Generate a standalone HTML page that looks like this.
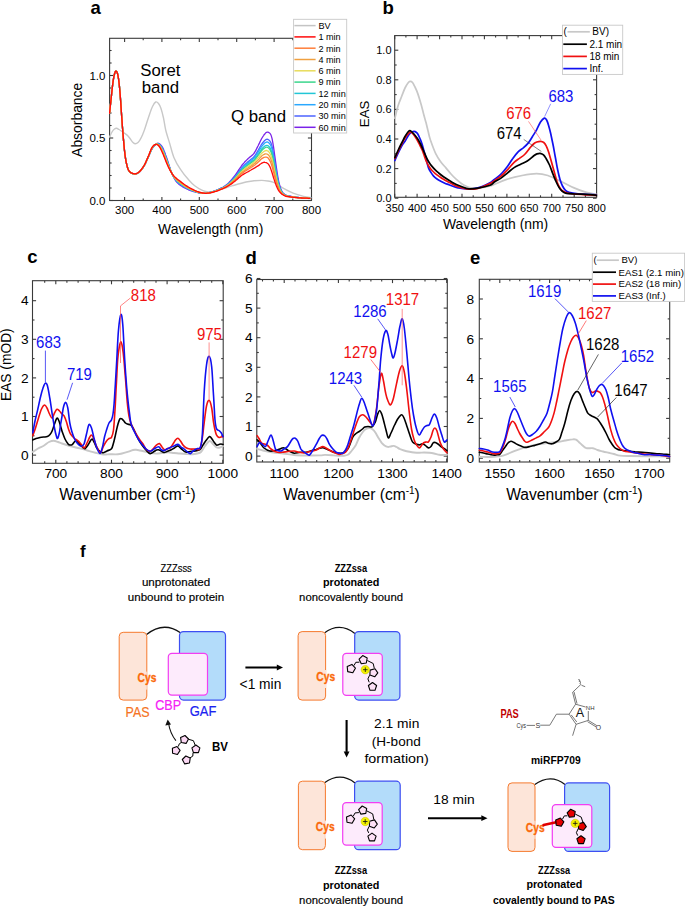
<!DOCTYPE html><html><head><meta charset="utf-8"><style>html,body{margin:0;padding:0;background:#fff;}svg{display:block;}text{font-family:"Liberation Sans",sans-serif;}</style></head><body>
<svg width="685" height="906" viewBox="0 0 685 906">
<rect width="685" height="906" fill="#fff"/>
<text x="90.5" y="13.8" font-size="18.5" fill="#000" font-weight="bold">a</text>
<line x1="124.6" y1="200.5" x2="124.6" y2="196.9" stroke="#3a3a3a" stroke-width="1.1"/>
<line x1="124.6" y1="38.3" x2="124.6" y2="41.9" stroke="#3a3a3a" stroke-width="1.1"/>
<line x1="161.9" y1="200.5" x2="161.9" y2="196.9" stroke="#3a3a3a" stroke-width="1.1"/>
<line x1="161.9" y1="38.3" x2="161.9" y2="41.9" stroke="#3a3a3a" stroke-width="1.1"/>
<line x1="199.3" y1="200.5" x2="199.3" y2="196.9" stroke="#3a3a3a" stroke-width="1.1"/>
<line x1="199.3" y1="38.3" x2="199.3" y2="41.9" stroke="#3a3a3a" stroke-width="1.1"/>
<line x1="236.7" y1="200.5" x2="236.7" y2="196.9" stroke="#3a3a3a" stroke-width="1.1"/>
<line x1="236.7" y1="38.3" x2="236.7" y2="41.9" stroke="#3a3a3a" stroke-width="1.1"/>
<line x1="274.1" y1="200.5" x2="274.1" y2="196.9" stroke="#3a3a3a" stroke-width="1.1"/>
<line x1="274.1" y1="38.3" x2="274.1" y2="41.9" stroke="#3a3a3a" stroke-width="1.1"/>
<line x1="311.5" y1="200.5" x2="311.5" y2="196.9" stroke="#3a3a3a" stroke-width="1.1"/>
<line x1="311.5" y1="38.3" x2="311.5" y2="41.9" stroke="#3a3a3a" stroke-width="1.1"/>
<line x1="143.2" y1="200.5" x2="143.2" y2="198.5" stroke="#3a3a3a" stroke-width="1.1"/>
<line x1="143.2" y1="38.3" x2="143.2" y2="40.3" stroke="#3a3a3a" stroke-width="1.1"/>
<line x1="180.6" y1="200.5" x2="180.6" y2="198.5" stroke="#3a3a3a" stroke-width="1.1"/>
<line x1="180.6" y1="38.3" x2="180.6" y2="40.3" stroke="#3a3a3a" stroke-width="1.1"/>
<line x1="218" y1="200.5" x2="218" y2="198.5" stroke="#3a3a3a" stroke-width="1.1"/>
<line x1="218" y1="38.3" x2="218" y2="40.3" stroke="#3a3a3a" stroke-width="1.1"/>
<line x1="255.4" y1="200.5" x2="255.4" y2="198.5" stroke="#3a3a3a" stroke-width="1.1"/>
<line x1="255.4" y1="38.3" x2="255.4" y2="40.3" stroke="#3a3a3a" stroke-width="1.1"/>
<line x1="292.8" y1="200.5" x2="292.8" y2="198.5" stroke="#3a3a3a" stroke-width="1.1"/>
<line x1="292.8" y1="38.3" x2="292.8" y2="40.3" stroke="#3a3a3a" stroke-width="1.1"/>
<line x1="109.6" y1="200.5" x2="113.2" y2="200.5" stroke="#3a3a3a" stroke-width="1.1"/>
<line x1="311.5" y1="200.5" x2="307.9" y2="200.5" stroke="#3a3a3a" stroke-width="1.1"/>
<line x1="109.6" y1="138" x2="113.2" y2="138" stroke="#3a3a3a" stroke-width="1.1"/>
<line x1="311.5" y1="138" x2="307.9" y2="138" stroke="#3a3a3a" stroke-width="1.1"/>
<line x1="109.6" y1="75.5" x2="113.2" y2="75.5" stroke="#3a3a3a" stroke-width="1.1"/>
<line x1="311.5" y1="75.5" x2="307.9" y2="75.5" stroke="#3a3a3a" stroke-width="1.1"/>
<line x1="109.6" y1="188" x2="111.6" y2="188" stroke="#3a3a3a" stroke-width="1.1"/>
<line x1="311.5" y1="188" x2="309.5" y2="188" stroke="#3a3a3a" stroke-width="1.1"/>
<line x1="109.6" y1="175.5" x2="111.6" y2="175.5" stroke="#3a3a3a" stroke-width="1.1"/>
<line x1="311.5" y1="175.5" x2="309.5" y2="175.5" stroke="#3a3a3a" stroke-width="1.1"/>
<line x1="109.6" y1="163" x2="111.6" y2="163" stroke="#3a3a3a" stroke-width="1.1"/>
<line x1="311.5" y1="163" x2="309.5" y2="163" stroke="#3a3a3a" stroke-width="1.1"/>
<line x1="109.6" y1="150.5" x2="111.6" y2="150.5" stroke="#3a3a3a" stroke-width="1.1"/>
<line x1="311.5" y1="150.5" x2="309.5" y2="150.5" stroke="#3a3a3a" stroke-width="1.1"/>
<line x1="109.6" y1="125.5" x2="111.6" y2="125.5" stroke="#3a3a3a" stroke-width="1.1"/>
<line x1="311.5" y1="125.5" x2="309.5" y2="125.5" stroke="#3a3a3a" stroke-width="1.1"/>
<line x1="109.6" y1="113" x2="111.6" y2="113" stroke="#3a3a3a" stroke-width="1.1"/>
<line x1="311.5" y1="113" x2="309.5" y2="113" stroke="#3a3a3a" stroke-width="1.1"/>
<line x1="109.6" y1="100.5" x2="111.6" y2="100.5" stroke="#3a3a3a" stroke-width="1.1"/>
<line x1="311.5" y1="100.5" x2="309.5" y2="100.5" stroke="#3a3a3a" stroke-width="1.1"/>
<line x1="109.6" y1="88" x2="111.6" y2="88" stroke="#3a3a3a" stroke-width="1.1"/>
<line x1="311.5" y1="88" x2="309.5" y2="88" stroke="#3a3a3a" stroke-width="1.1"/>
<line x1="109.6" y1="63" x2="111.6" y2="63" stroke="#3a3a3a" stroke-width="1.1"/>
<line x1="311.5" y1="63" x2="309.5" y2="63" stroke="#3a3a3a" stroke-width="1.1"/>
<line x1="109.6" y1="50.5" x2="111.6" y2="50.5" stroke="#3a3a3a" stroke-width="1.1"/>
<line x1="311.5" y1="50.5" x2="309.5" y2="50.5" stroke="#3a3a3a" stroke-width="1.1"/>
<rect x="109.6" y="38.3" width="201.9" height="162.2" fill="none" stroke="#3a3a3a" stroke-width="1.1"/>
<path d="M109.6 137C110 136.2 111.2 133.3 112 132C112.8 130.7 113.7 129.6 114.5 129C115.3 128.4 115.8 128.2 116.6 128.3C117.3 128.4 118.1 129 119 129.5C119.9 130 121 130.8 122 131.5C123 132.2 124.1 132.8 125 133.5C125.9 134.2 126.7 134.7 127.5 135.5C128.3 136.3 129.1 137.3 130 138.5C130.9 139.7 132.1 141.6 133 142.5C133.9 143.4 134.7 143.8 135.5 143.8C136.3 143.8 137.2 143.2 138 142.5C138.8 141.8 139.3 141.1 140 139.9C140.7 138.7 141.5 137.2 142.2 135.5C142.9 133.8 143.6 132.2 144.4 130C145.2 127.8 146.1 124.8 147 122C147.9 119.2 149.1 115.6 150 113C150.9 110.4 151.6 108.3 152.5 106.5C153.4 104.7 154.7 102.5 155.7 102C156.7 101.5 157.6 102.4 158.5 103.5C159.4 104.6 160.2 106.1 161 108.5C161.8 110.9 162.7 114.4 163.5 118C164.3 121.6 164.7 125.8 165.7 130C166.7 134.2 168.2 138.5 169.6 143.1C171 147.7 172.1 153 173.9 157.4C175.7 161.8 178.1 165.8 180.5 169.4C182.9 173.1 185.8 176.6 188.2 179.3C190.6 182 192.3 184 194.7 185.8C197.1 187.7 200.3 189.4 202.4 190.4C204.5 191.4 205.4 191.6 207 191.8C208.6 192 209.9 191.9 212 191.6C214.1 191.3 216.2 190.8 219.7 189.8C223.2 188.8 228.4 187 232.8 185.7C237.2 184.4 242.5 182.8 246 182C249.5 181.2 251.4 181.1 254 180.8C256.6 180.5 259.5 180.4 261.8 180.4C264.1 180.4 266 180.7 268 181C270 181.3 271.9 181.8 273.6 182.4C275.3 183 276.5 183.9 278 184.8C279.5 185.7 280.1 186.5 282.6 187.9C285.1 189.3 289.6 191.7 293.1 193.1C296.6 194.5 300.6 195.6 303.6 196.4C306.6 197.2 309.8 197.5 311 197.7" fill="none" stroke="#c8c8c8" stroke-width="1.4" stroke-linejoin="round" stroke-linecap="round"/>
<path d="M109.6 113C109.7 111.9 110.1 108.6 110.3 106.4C110.5 104.1 110.8 101.9 111 99.8C111.2 97.6 111.5 95.4 111.7 93.3C111.9 91.1 112.2 88.9 112.4 86.9C112.6 84.9 112.9 82.9 113.1 81.3C113.3 79.7 113.6 78.3 113.8 77.1C114 75.9 114.3 74.8 114.5 74C114.7 73.2 115 72.5 115.2 72C115.4 71.5 115.7 71.3 115.9 71.2C116.1 71.1 116.4 71.2 116.6 71.5C116.8 71.8 117.1 72.3 117.3 73C117.5 73.7 117.8 74.5 118 75.7C118.2 76.9 118.5 78.3 118.7 80C118.9 81.7 119.2 83.8 119.4 86.1C119.6 88.4 119.9 90.9 120.1 93.8C120.3 96.6 120.6 99.9 120.8 103.3C121 106.6 121.3 110.4 121.5 113.7C121.7 117.1 122 120.3 122.2 123.5C122.4 126.6 122.7 129.9 122.9 132.8C123.1 135.7 123.4 138.5 123.6 141.1C123.8 143.7 124.1 146.3 124.3 148.5C124.5 150.8 124.9 153.8 125 154.8C125.1 155.8 124.8 153.4 125 154.8C125.2 156.2 125.9 160.9 126.4 163.2C126.9 165.5 127.3 167.1 127.8 168.4C128.3 169.8 128.7 170.6 129.2 171.4C129.7 172.1 130.1 172.4 130.6 172.8C131.1 173.2 131.5 173.3 132 173.5C132.5 173.7 132.9 173.8 133.4 173.9C133.9 174 134.3 174.1 134.8 174.1C135.3 174.1 135.7 174 136.2 173.9C136.7 173.8 137.1 173.6 137.6 173.3C138.1 173.1 138.5 172.9 139 172.5C139.5 172.1 139.9 171.6 140.4 171.1C140.9 170.5 141.3 170 141.8 169.4C142.3 168.8 142.7 168.1 143.2 167.4C143.7 166.7 144.1 166 144.6 165.1C145.1 164.3 145.5 163.3 146 162.3C146.5 161.3 146.9 160.2 147.4 159.2C147.9 158.1 148.3 157.1 148.8 156C149.3 154.9 149.7 153.8 150.2 152.8C150.7 151.7 151.1 150.6 151.6 149.7C152.1 148.8 152.5 148.1 153 147.4C153.5 146.8 153.9 146.2 154.4 145.7C154.9 145.2 155.3 144.7 155.8 144.3C156.3 143.9 156.7 143.5 157.2 143.3C157.7 143.2 158.1 143.2 158.6 143.3C159.1 143.4 159.5 143.8 160 144.2C160.5 144.6 160.9 145 161.4 145.6C161.9 146.3 162.3 147 162.8 147.9C163.3 148.8 163.7 149.9 164.2 151.1C164.7 152.2 165.1 153.6 165.6 154.9C166.1 156.1 166.5 157.4 167 158.8C167.5 160.2 167.9 161.7 168.4 163.2C168.9 164.6 169.3 166.1 169.8 167.5C170.3 169 170.7 170.7 171.2 171.9C171.7 173.2 172.1 174.1 172.6 175.1C173.1 176.1 173.5 177 174 177.9C174.5 178.8 174.9 179.6 175.4 180.3C175.9 181 176.3 181.6 176.8 182.2C177.3 182.7 177.7 183.1 178.2 183.6C178.7 184 179.1 184.4 179.6 184.7C180.1 185.1 180.5 185.4 181 185.8C181.5 186.1 181.9 186.4 182.4 186.6C182.9 186.9 183.3 187.2 183.8 187.4C184.3 187.7 184.7 188 185.2 188.2C185.7 188.4 186.1 188.7 186.6 188.9C187.1 189.1 187.5 189.3 188 189.5C188.5 189.7 188.9 189.9 189.4 190.1C189.9 190.3 190.3 190.4 190.8 190.6C191.3 190.8 191.7 190.9 192.2 191.1C192.7 191.2 193.1 191.4 193.6 191.5C194.1 191.6 194.5 191.8 195 191.9C195.5 192 195.9 192.2 196.4 192.3C196.9 192.4 197.3 192.5 197.8 192.6C198.3 192.7 198.7 192.8 199.2 192.9C199.7 193 200.1 193.1 200.6 193.2C201.1 193.3 201.5 193.3 202 193.4C202.5 193.4 202.9 193.4 203.4 193.4C203.9 193.4 204.3 193.4 204.8 193.4C205.3 193.4 205.7 193.3 206.2 193.2C206.7 193.2 207.1 193.1 207.6 193C208.1 192.9 208.5 192.8 209 192.6C209.5 192.5 209.9 192.4 210.4 192.3C210.9 192.1 211.3 192 211.8 191.8C212.3 191.7 212.7 191.5 213.2 191.4C213.7 191.2 214.1 191 214.6 190.9C215.1 190.7 215.5 190.5 216 190.3C216.5 190.2 216.9 190 217.4 189.8C217.9 189.6 218.3 189.4 218.8 189.2C219.3 189 219.7 188.8 220.2 188.6C220.7 188.4 221.1 188.2 221.6 187.9C222.1 187.7 222.5 187.5 223 187.2C223.5 186.9 223.9 186.7 224.4 186.3C224.9 186 225.3 185.7 225.8 185.4C226.3 185 226.7 184.7 227.2 184.3C227.7 183.9 228.1 183.4 228.6 183C229.1 182.5 229.5 182 230 181.5C230.5 181 230.9 180.5 231.4 179.9C231.9 179.4 232.3 178.8 232.8 178.2C233.3 177.7 233.7 177.1 234.2 176.5C234.7 175.9 235.1 175.3 235.6 174.6C236.1 174 236.5 173.3 237 172.6C237.5 171.9 237.9 171.2 238.4 170.5C238.9 169.8 239.3 169.1 239.8 168.4C240.3 167.7 240.7 167 241.2 166.4C241.7 165.7 242.1 165.1 242.6 164.5C243.1 163.9 243.5 163.4 244 162.9C244.5 162.3 244.9 161.8 245.4 161.3C245.9 160.8 246.3 160.4 246.8 159.9C247.3 159.4 247.7 159 248.2 158.5C248.7 158.1 249.1 157.7 249.6 157.4C250.1 157 250.5 156.6 251 156.2C251.5 155.8 251.9 155.5 252.4 155C252.9 154.6 253.3 154.2 253.8 153.6C254.3 153 254.7 152.2 255.2 151.4C255.7 150.6 256.1 149.7 256.6 148.8C257.1 147.9 257.5 146.9 258 146C258.5 145 258.9 144 259.4 143.1C259.9 142.1 260.3 141.2 260.8 140.3C261.3 139.4 261.7 138.4 262.2 137.7C262.7 136.9 263.1 136.2 263.6 135.6C264.1 134.9 264.5 134.2 265 133.7C265.5 133.1 265.9 132.6 266.4 132.4C266.9 132.1 267.3 132 267.8 132.1C268.3 132.2 268.7 132.4 269.2 132.8C269.7 133.1 270.1 133.4 270.6 134.3C271.1 135.2 271.5 136.3 272 138.3C272.5 140.2 272.9 143.2 273.4 146.2C273.9 149.2 274.3 152.9 274.8 156.2C275.3 159.5 275.7 162.8 276.2 166C276.7 169.2 277.1 172.6 277.6 175.4C278.1 178.1 278.5 180.6 279 182.7C279.5 184.7 279.9 186.3 280.4 187.7C280.9 189.1 281.3 190.2 281.8 191.1C282.3 192 282.7 192.5 283.2 193.1C283.7 193.6 284.1 193.9 284.6 194.3C285.1 194.6 285.5 194.8 286 195.1C286.5 195.4 286.9 195.7 287.4 195.9C287.9 196 288.3 196 288.8 196.1C289.3 196.1 289.7 196.2 290.2 196.2C290.7 196.3 291.1 196.4 291.6 196.5C292.1 196.5 292.5 196.6 293 196.7C293.5 196.7 293.9 196.8 294.4 196.9C294.9 197 295.3 197 295.8 197.1C296.3 197.2 296.7 197.2 297.2 197.3C297.7 197.3 298.1 197.4 298.6 197.5C299.1 197.5 299.5 197.6 300 197.6C300.5 197.6 300.9 197.7 301.4 197.7C301.9 197.8 302.3 197.8 302.8 197.8C303.3 197.8 303.7 197.9 304.2 197.9C304.7 197.9 305.1 197.9 305.6 198C306.1 198 306.5 198 307 198C307.5 198 307.9 198.1 308.4 198.1C308.9 198.1 309.6 198.1 309.8 198.1" fill="none" stroke="#7a22e8" stroke-width="1.3" stroke-linejoin="round" stroke-linecap="round"/>
<path d="M109.6 113C109.7 111.9 110.1 108.6 110.3 106.4C110.5 104.1 110.8 101.9 111 99.8C111.2 97.6 111.5 95.4 111.7 93.3C111.9 91.1 112.2 88.9 112.4 86.9C112.6 84.9 112.9 82.9 113.1 81.3C113.3 79.7 113.6 78.3 113.8 77.1C114 75.9 114.3 74.8 114.5 74C114.7 73.2 115 72.5 115.2 72C115.4 71.5 115.7 71.3 115.9 71.2C116.1 71.1 116.4 71.2 116.6 71.5C116.8 71.8 117.1 72.3 117.3 73C117.5 73.7 117.8 74.5 118 75.7C118.2 76.9 118.5 78.3 118.7 80C118.9 81.7 119.2 83.8 119.4 86.1C119.6 88.4 119.9 90.9 120.1 93.8C120.3 96.6 120.6 99.9 120.8 103.3C121 106.6 121.3 110.4 121.5 113.7C121.7 117.1 122 120.3 122.2 123.5C122.4 126.6 122.7 129.9 122.9 132.8C123.1 135.7 123.4 138.5 123.6 141.1C123.8 143.7 124.1 146.3 124.3 148.5C124.5 150.8 124.9 153.8 125 154.8C125.1 155.8 124.8 153.4 125 154.8C125.2 156.2 125.9 160.9 126.4 163.2C126.9 165.5 127.3 167.1 127.8 168.4C128.3 169.8 128.7 170.6 129.2 171.3C129.7 172 130.1 172.4 130.6 172.7C131.1 173.1 131.5 173.3 132 173.4C132.5 173.6 132.9 173.7 133.4 173.8C133.9 173.9 134.3 174 134.8 174C135.3 174 135.7 173.9 136.2 173.8C136.7 173.7 137.1 173.5 137.6 173.3C138.1 173 138.5 172.8 139 172.4C139.5 172 139.9 171.5 140.4 171C140.9 170.4 141.3 169.9 141.8 169.3C142.3 168.7 142.7 168 143.2 167.3C143.7 166.6 144.1 165.9 144.6 165C145.1 164.2 145.5 163.2 146 162.2C146.5 161.2 146.9 160.1 147.4 159C147.9 158 148.3 156.9 148.8 155.8C149.3 154.7 149.7 153.6 150.2 152.5C150.7 151.4 151.1 150.3 151.6 149.4C152.1 148.5 152.5 147.8 153 147.1C153.5 146.5 153.9 146 154.4 145.5C154.9 145 155.3 144.7 155.8 144.4C156.3 144.1 156.7 143.7 157.2 143.7C157.7 143.6 158.1 143.6 158.6 143.9C159.1 144.1 159.5 144.5 160 145C160.5 145.4 160.9 146 161.4 146.7C161.9 147.5 162.3 148.2 162.8 149.2C163.3 150.1 163.7 151.3 164.2 152.4C164.7 153.6 165.1 154.9 165.6 156.2C166.1 157.4 166.5 158.7 167 160C167.5 161.3 167.9 162.7 168.4 164.1C168.9 165.4 169.3 166.7 169.8 168.1C170.3 169.4 170.7 170.9 171.2 172C171.7 173.1 172.1 174 172.6 174.9C173.1 175.8 173.5 176.7 174 177.5C174.5 178.3 174.9 179 175.4 179.6C175.9 180.3 176.3 180.8 176.8 181.4C177.3 181.9 177.7 182.3 178.2 182.7C178.7 183.1 179.1 183.5 179.6 183.8C180.1 184.2 180.5 184.5 181 184.9C181.5 185.2 181.9 185.5 182.4 185.8C182.9 186.1 183.3 186.4 183.8 186.6C184.3 186.9 184.7 187.2 185.2 187.5C185.7 187.7 186.1 188 186.6 188.2C187.1 188.4 187.5 188.7 188 188.9C188.5 189.1 188.9 189.3 189.4 189.5C189.9 189.7 190.3 189.9 190.8 190.1C191.3 190.3 191.7 190.5 192.2 190.6C192.7 190.8 193.1 191 193.6 191.1C194.1 191.3 194.5 191.4 195 191.6C195.5 191.7 195.9 191.9 196.4 192C196.9 192.1 197.3 192.3 197.8 192.4C198.3 192.5 198.7 192.6 199.2 192.7C199.7 192.8 200.1 193 200.6 193C201.1 193.1 201.5 193.2 202 193.3C202.5 193.3 202.9 193.4 203.4 193.4C203.9 193.4 204.3 193.4 204.8 193.4C205.3 193.3 205.7 193.3 206.2 193.2C206.7 193.2 207.1 193.1 207.6 193C208.1 192.9 208.5 192.8 209 192.7C209.5 192.6 209.9 192.5 210.4 192.4C210.9 192.3 211.3 192.1 211.8 192C212.3 191.8 212.7 191.7 213.2 191.5C213.7 191.4 214.1 191.2 214.6 191.1C215.1 190.9 215.5 190.7 216 190.6C216.5 190.4 216.9 190.2 217.4 190C217.9 189.8 218.3 189.6 218.8 189.5C219.3 189.3 219.7 189.1 220.2 188.9C220.7 188.6 221.1 188.4 221.6 188.2C222.1 188 222.5 187.8 223 187.5C223.5 187.3 223.9 187 224.4 186.7C224.9 186.4 225.3 186.1 225.8 185.8C226.3 185.5 226.7 185.1 227.2 184.8C227.7 184.4 228.1 184 228.6 183.6C229.1 183.2 229.5 182.7 230 182.3C230.5 181.8 230.9 181.3 231.4 180.8C231.9 180.3 232.3 179.8 232.8 179.3C233.3 178.8 233.7 178.3 234.2 177.7C234.7 177.2 235.1 176.6 235.6 176C236.1 175.4 236.5 174.8 237 174.2C237.5 173.6 237.9 172.9 238.4 172.3C238.9 171.7 239.3 171 239.8 170.4C240.3 169.8 240.7 169.1 241.2 168.6C241.7 168 242.1 167.4 242.6 166.9C243.1 166.4 243.5 165.9 244 165.4C244.5 164.9 244.9 164.5 245.4 164C245.9 163.6 246.3 163.2 246.8 162.8C247.3 162.3 247.7 161.9 248.2 161.5C248.7 161.1 249.1 160.8 249.6 160.4C250.1 160.1 250.5 159.7 251 159.4C251.5 159 251.9 158.7 252.4 158.3C252.9 157.9 253.3 157.5 253.8 157C254.3 156.5 254.7 155.8 255.2 155.2C255.7 154.5 256.1 153.7 256.6 152.9C257.1 152.2 257.5 151.4 258 150.5C258.5 149.7 258.9 148.9 259.4 148.1C259.9 147.3 260.3 146.4 260.8 145.7C261.3 144.9 261.7 144.1 262.2 143.5C262.7 142.8 263.1 142.3 263.6 141.8C264.1 141.2 264.5 140.7 265 140.3C265.5 139.9 265.9 139.5 266.4 139.3C266.9 139.2 267.3 139.2 267.8 139.3C268.3 139.5 268.7 139.8 269.2 140.3C269.7 140.7 270.1 141.1 270.6 142.1C271.1 143.1 271.5 144.3 272 146.1C272.5 148 272.9 150.7 273.4 153.3C273.9 156 274.3 159.2 274.8 162C275.3 164.9 275.7 167.7 276.2 170.5C276.7 173.2 277.1 176.1 277.6 178.4C278.1 180.8 278.5 182.9 279 184.6C279.5 186.4 279.9 187.7 280.4 188.9C280.9 190 281.3 191 281.8 191.7C282.3 192.5 282.7 193 283.2 193.5C283.7 194 284.1 194.3 284.6 194.6C285.1 194.9 285.5 195.1 286 195.4C286.5 195.6 286.9 195.9 287.4 196C287.9 196.2 288.3 196.1 288.8 196.2C289.3 196.3 289.7 196.3 290.2 196.4C290.7 196.5 291.1 196.5 291.6 196.6C292.1 196.7 292.5 196.7 293 196.8C293.5 196.9 293.9 196.9 294.4 197C294.9 197.1 295.3 197.1 295.8 197.2C296.3 197.3 296.7 197.3 297.2 197.4C297.7 197.4 298.1 197.5 298.6 197.5C299.1 197.6 299.5 197.6 300 197.7C300.5 197.7 300.9 197.7 301.4 197.8C301.9 197.8 302.3 197.8 302.8 197.9C303.3 197.9 303.7 197.9 304.2 197.9C304.7 198 305.1 198 305.6 198C306.1 198 306.5 198.1 307 198.1C307.5 198.1 307.9 198.1 308.4 198.1C308.9 198.2 309.6 198.2 309.8 198.2" fill="none" stroke="#4d63ff" stroke-width="1.3" stroke-linejoin="round" stroke-linecap="round"/>
<path d="M109.6 113C109.7 111.9 110.1 108.6 110.3 106.4C110.5 104.1 110.8 101.9 111 99.8C111.2 97.6 111.5 95.4 111.7 93.3C111.9 91.1 112.2 88.9 112.4 86.9C112.6 84.9 112.9 82.9 113.1 81.3C113.3 79.7 113.6 78.3 113.8 77.1C114 75.9 114.3 74.8 114.5 74C114.7 73.2 115 72.5 115.2 72C115.4 71.5 115.7 71.3 115.9 71.2C116.1 71.1 116.4 71.2 116.6 71.5C116.8 71.8 117.1 72.3 117.3 73C117.5 73.7 117.8 74.5 118 75.7C118.2 76.9 118.5 78.3 118.7 80C118.9 81.7 119.2 83.8 119.4 86.1C119.6 88.4 119.9 90.9 120.1 93.8C120.3 96.6 120.6 99.9 120.8 103.3C121 106.6 121.3 110.4 121.5 113.7C121.7 117.1 122 120.3 122.2 123.5C122.4 126.6 122.7 129.9 122.9 132.8C123.1 135.7 123.4 138.5 123.6 141.1C123.8 143.7 124.1 146.3 124.3 148.5C124.5 150.8 124.9 153.8 125 154.8C125.1 155.8 124.8 153.4 125 154.8C125.2 156.2 125.9 161 126.4 163.2C126.9 165.5 127.3 167.1 127.8 168.4C128.3 169.8 128.7 170.6 129.2 171.3C129.7 172 130.1 172.3 130.6 172.7C131.1 173.1 131.5 173.2 132 173.4C132.5 173.6 132.9 173.7 133.4 173.8C133.9 173.9 134.3 174 134.8 174C135.3 174 135.7 173.9 136.2 173.8C136.7 173.7 137.1 173.5 137.6 173.2C138.1 173 138.5 172.7 139 172.4C139.5 172 139.9 171.4 140.4 170.9C140.9 170.4 141.3 169.8 141.8 169.2C142.3 168.6 142.7 168 143.2 167.3C143.7 166.6 144.1 165.8 144.6 165C145.1 164.1 145.5 163.1 146 162.1C146.5 161.1 146.9 160 147.4 159C147.9 157.9 148.3 156.8 148.8 155.7C149.3 154.7 149.7 153.5 150.2 152.4C150.7 151.3 151.1 150.1 151.6 149.2C152.1 148.3 152.5 147.7 153 147C153.5 146.4 153.9 145.9 154.4 145.4C154.9 145 155.3 144.7 155.8 144.4C156.3 144.1 156.7 143.8 157.2 143.8C157.7 143.7 158.1 143.8 158.6 144.1C159.1 144.3 159.5 144.8 160 145.3C160.5 145.8 160.9 146.4 161.4 147.2C161.9 147.9 162.3 148.7 162.8 149.7C163.3 150.7 163.7 151.8 164.2 153C164.7 154.1 165.1 155.4 165.6 156.7C166.1 157.9 166.5 159.2 167 160.5C167.5 161.7 167.9 163.1 168.4 164.4C168.9 165.7 169.3 167 169.8 168.3C170.3 169.5 170.7 170.9 171.2 172C171.7 173.1 172.1 174 172.6 174.8C173.1 175.7 173.5 176.6 174 177.3C174.5 178.1 174.9 178.8 175.4 179.4C175.9 180 176.3 180.5 176.8 181C177.3 181.5 177.7 182 178.2 182.4C178.7 182.8 179.1 183.1 179.6 183.5C180.1 183.8 180.5 184.2 181 184.5C181.5 184.8 181.9 185.2 182.4 185.5C182.9 185.8 183.3 186.1 183.8 186.3C184.3 186.6 184.7 186.9 185.2 187.2C185.7 187.4 186.1 187.7 186.6 187.9C187.1 188.2 187.5 188.4 188 188.6C188.5 188.9 188.9 189.1 189.4 189.3C189.9 189.5 190.3 189.7 190.8 189.9C191.3 190.1 191.7 190.3 192.2 190.5C192.7 190.6 193.1 190.8 193.6 191C194.1 191.2 194.5 191.3 195 191.5C195.5 191.6 195.9 191.8 196.4 191.9C196.9 192 197.3 192.2 197.8 192.3C198.3 192.4 198.7 192.6 199.2 192.7C199.7 192.8 200.1 192.9 200.6 193C201.1 193.1 201.5 193.2 202 193.2C202.5 193.3 202.9 193.3 203.4 193.3C203.9 193.4 204.3 193.4 204.8 193.3C205.3 193.3 205.7 193.3 206.2 193.3C206.7 193.2 207.1 193.1 207.6 193.1C208.1 193 208.5 192.9 209 192.8C209.5 192.7 209.9 192.6 210.4 192.4C210.9 192.3 211.3 192.2 211.8 192C212.3 191.9 212.7 191.8 213.2 191.6C213.7 191.5 214.1 191.3 214.6 191.1C215.1 191 215.5 190.8 216 190.6C216.5 190.5 216.9 190.3 217.4 190.1C217.9 189.9 218.3 189.7 218.8 189.5C219.3 189.4 219.7 189.2 220.2 189C220.7 188.8 221.1 188.5 221.6 188.3C222.1 188.1 222.5 187.9 223 187.6C223.5 187.4 223.9 187.1 224.4 186.9C224.9 186.6 225.3 186.3 225.8 186C226.3 185.7 226.7 185.3 227.2 185C227.7 184.6 228.1 184.2 228.6 183.8C229.1 183.4 229.5 183 230 182.6C230.5 182.1 230.9 181.7 231.4 181.2C231.9 180.7 232.3 180.2 232.8 179.7C233.3 179.2 233.7 178.7 234.2 178.2C234.7 177.7 235.1 177.1 235.6 176.6C236.1 176 236.5 175.4 237 174.8C237.5 174.2 237.9 173.6 238.4 173C238.9 172.4 239.3 171.8 239.8 171.2C240.3 170.6 240.7 170 241.2 169.4C241.7 168.8 242.1 168.3 242.6 167.8C243.1 167.3 243.5 166.8 244 166.4C244.5 165.9 244.9 165.5 245.4 165.1C245.9 164.7 246.3 164.3 246.8 163.9C247.3 163.5 247.7 163.1 248.2 162.7C248.7 162.3 249.1 162 249.6 161.7C250.1 161.3 250.5 161 251 160.6C251.5 160.3 251.9 159.9 252.4 159.6C252.9 159.2 253.3 158.8 253.8 158.3C254.3 157.8 254.7 157.2 255.2 156.6C255.7 156 256.1 155.3 256.6 154.5C257.1 153.8 257.5 153.1 258 152.3C258.5 151.6 258.9 150.8 259.4 150.1C259.9 149.3 260.3 148.5 260.8 147.8C261.3 147.1 261.7 146.4 262.2 145.8C262.7 145.1 263.1 144.7 263.6 144.2C264.1 143.7 264.5 143.2 265 142.8C265.5 142.5 265.9 142.2 266.4 142.1C266.9 141.9 267.3 142 267.8 142.2C268.3 142.3 268.7 142.7 269.2 143.2C269.7 143.7 270.1 144.2 270.6 145.2C271.1 146.2 271.5 147.4 272 149.2C272.5 151 272.9 153.6 273.4 156.1C273.9 158.6 274.3 161.6 274.8 164.3C275.3 167 275.7 169.6 276.2 172.2C276.7 174.8 277.1 177.4 277.6 179.6C278.1 181.8 278.5 183.8 279 185.4C279.5 187 279.9 188.2 280.4 189.3C280.9 190.4 281.3 191.3 281.8 192C282.3 192.7 282.7 193.2 283.2 193.7C283.7 194.1 284.1 194.4 284.6 194.7C285.1 195 285.5 195.3 286 195.5C286.5 195.7 286.9 195.9 287.4 196.1C287.9 196.2 288.3 196.2 288.8 196.3C289.3 196.3 289.7 196.4 290.2 196.5C290.7 196.5 291.1 196.6 291.6 196.7C292.1 196.7 292.5 196.8 293 196.9C293.5 196.9 293.9 197 294.4 197.1C294.9 197.1 295.3 197.2 295.8 197.2C296.3 197.3 296.7 197.4 297.2 197.4C297.7 197.5 298.1 197.5 298.6 197.6C299.1 197.6 299.5 197.7 300 197.7C300.5 197.7 300.9 197.8 301.4 197.8C301.9 197.8 302.3 197.9 302.8 197.9C303.3 197.9 303.7 197.9 304.2 198C304.7 198 305.1 198 305.6 198C306.1 198.1 306.5 198.1 307 198.1C307.5 198.1 307.9 198.1 308.4 198.2C308.9 198.2 309.6 198.2 309.8 198.2" fill="none" stroke="#2aa8ff" stroke-width="1.3" stroke-linejoin="round" stroke-linecap="round"/>
<path d="M109.6 113C109.7 111.9 110.1 108.6 110.3 106.4C110.5 104.1 110.8 101.9 111 99.8C111.2 97.6 111.5 95.4 111.7 93.3C111.9 91.1 112.2 88.9 112.4 86.9C112.6 84.9 112.9 82.9 113.1 81.3C113.3 79.7 113.6 78.3 113.8 77.1C114 75.9 114.3 74.8 114.5 74C114.7 73.2 115 72.5 115.2 72C115.4 71.5 115.7 71.3 115.9 71.2C116.1 71.1 116.4 71.2 116.6 71.5C116.8 71.8 117.1 72.3 117.3 73C117.5 73.7 117.8 74.5 118 75.7C118.2 76.9 118.5 78.3 118.7 80C118.9 81.7 119.2 83.8 119.4 86.1C119.6 88.4 119.9 90.9 120.1 93.8C120.3 96.6 120.6 99.9 120.8 103.3C121 106.6 121.3 110.4 121.5 113.7C121.7 117.1 122 120.3 122.2 123.5C122.4 126.6 122.7 129.9 122.9 132.8C123.1 135.7 123.4 138.5 123.6 141.1C123.8 143.7 124.1 146.3 124.3 148.5C124.5 150.8 124.9 153.8 125 154.8C125.1 155.8 124.8 153.4 125 154.8C125.2 156.2 125.9 161 126.4 163.2C126.9 165.5 127.3 167.1 127.8 168.4C128.3 169.8 128.7 170.5 129.2 171.3C129.7 172 130.1 172.3 130.6 172.7C131.1 173 131.5 173.2 132 173.4C132.5 173.6 132.9 173.7 133.4 173.8C133.9 173.9 134.3 174 134.8 174C135.3 174 135.7 173.9 136.2 173.8C136.7 173.6 137.1 173.4 137.6 173.2C138.1 173 138.5 172.7 139 172.3C139.5 171.9 139.9 171.4 140.4 170.9C140.9 170.4 141.3 169.8 141.8 169.2C142.3 168.6 142.7 168 143.2 167.2C143.7 166.5 144.1 165.8 144.6 164.9C145.1 164.1 145.5 163.1 146 162.1C146.5 161.1 146.9 159.9 147.4 158.9C147.9 157.8 148.3 156.8 148.8 155.7C149.3 154.6 149.7 153.4 150.2 152.3C150.7 151.2 151.1 150 151.6 149.1C152.1 148.2 152.5 147.5 153 146.9C153.5 146.3 153.9 145.8 154.4 145.4C154.9 144.9 155.3 144.6 155.8 144.4C156.3 144.2 156.7 143.9 157.2 143.9C157.7 143.9 158.1 144.1 158.6 144.3C159.1 144.6 159.5 145.1 160 145.7C160.5 146.2 160.9 146.9 161.4 147.7C161.9 148.5 162.3 149.4 162.8 150.3C163.3 151.3 163.7 152.4 164.2 153.6C164.7 154.8 165.1 156.1 165.6 157.3C166.1 158.6 166.5 159.8 167 161C167.5 162.3 167.9 163.6 168.4 164.9C168.9 166.1 169.3 167.3 169.8 168.5C170.3 169.7 170.7 171 171.2 172.1C171.7 173.1 172.1 173.9 172.6 174.8C173.1 175.6 173.5 176.4 174 177.1C174.5 177.8 174.9 178.5 175.4 179.1C175.9 179.7 176.3 180.2 176.8 180.7C177.3 181.1 177.7 181.5 178.2 181.9C178.7 182.3 179.1 182.7 179.6 183.1C180.1 183.4 180.5 183.8 181 184.1C181.5 184.4 181.9 184.7 182.4 185C182.9 185.4 183.3 185.7 183.8 186C184.3 186.2 184.7 186.5 185.2 186.8C185.7 187.1 186.1 187.3 186.6 187.6C187.1 187.9 187.5 188.1 188 188.3C188.5 188.6 188.9 188.8 189.4 189C189.9 189.2 190.3 189.4 190.8 189.7C191.3 189.9 191.7 190.1 192.2 190.3C192.7 190.4 193.1 190.6 193.6 190.8C194.1 191 194.5 191.2 195 191.3C195.5 191.5 195.9 191.6 196.4 191.8C196.9 191.9 197.3 192.1 197.8 192.2C198.3 192.3 198.7 192.5 199.2 192.6C199.7 192.7 200.1 192.8 200.6 192.9C201.1 193 201.5 193.1 202 193.2C202.5 193.2 202.9 193.3 203.4 193.3C203.9 193.3 204.3 193.3 204.8 193.3C205.3 193.3 205.7 193.3 206.2 193.3C206.7 193.2 207.1 193.2 207.6 193.1C208.1 193 208.5 192.9 209 192.8C209.5 192.7 209.9 192.6 210.4 192.5C210.9 192.4 211.3 192.3 211.8 192.1C212.3 192 212.7 191.8 213.2 191.7C213.7 191.5 214.1 191.4 214.6 191.2C215.1 191.1 215.5 190.9 216 190.7C216.5 190.6 216.9 190.4 217.4 190.2C217.9 190 218.3 189.9 218.8 189.7C219.3 189.5 219.7 189.3 220.2 189.1C220.7 188.9 221.1 188.7 221.6 188.5C222.1 188.2 222.5 188 223 187.8C223.5 187.5 223.9 187.3 224.4 187C224.9 186.8 225.3 186.5 225.8 186.2C226.3 185.9 226.7 185.6 227.2 185.2C227.7 184.9 228.1 184.5 228.6 184.2C229.1 183.8 229.5 183.4 230 182.9C230.5 182.5 230.9 182.1 231.4 181.6C231.9 181.2 232.3 180.7 232.8 180.2C233.3 179.7 233.7 179.3 234.2 178.8C234.7 178.3 235.1 177.8 235.6 177.2C236.1 176.7 236.5 176.1 237 175.6C237.5 175 237.9 174.4 238.4 173.8C238.9 173.2 239.3 172.7 239.8 172.1C240.3 171.5 240.7 171 241.2 170.4C241.7 169.9 242.1 169.4 242.6 168.9C243.1 168.5 243.5 168 244 167.6C244.5 167.2 244.9 166.8 245.4 166.4C245.9 166 246.3 165.6 246.8 165.2C247.3 164.9 247.7 164.5 248.2 164.1C248.7 163.8 249.1 163.5 249.6 163.1C250.1 162.8 250.5 162.5 251 162.1C251.5 161.8 251.9 161.5 252.4 161.1C252.9 160.7 253.3 160.4 253.8 160C254.3 159.5 254.7 158.9 255.2 158.4C255.7 157.8 256.1 157.2 256.6 156.5C257.1 155.9 257.5 155.2 258 154.5C258.5 153.9 258.9 153.2 259.4 152.5C259.9 151.8 260.3 151 260.8 150.4C261.3 149.7 261.7 149.1 262.2 148.5C262.7 148 263.1 147.6 263.6 147.1C264.1 146.7 264.5 146.3 265 146C265.5 145.7 265.9 145.4 266.4 145.4C266.9 145.3 267.3 145.4 267.8 145.6C268.3 145.8 268.7 146.2 269.2 146.8C269.7 147.3 270.1 147.9 270.6 148.9C271.1 150 271.5 151.2 272 153C272.5 154.7 272.9 157.2 273.4 159.5C273.9 161.9 274.3 164.6 274.8 167.1C275.3 169.6 275.7 172 276.2 174.3C276.7 176.7 277.1 179.1 277.6 181.1C278.1 183.1 278.5 184.9 279 186.3C279.5 187.8 279.9 188.9 280.4 189.9C280.9 190.9 281.3 191.7 281.8 192.3C282.3 193 282.7 193.5 283.2 193.9C283.7 194.3 284.1 194.6 284.6 194.9C285.1 195.2 285.5 195.4 286 195.6C286.5 195.8 286.9 196 287.4 196.1C287.9 196.3 288.3 196.3 288.8 196.3C289.3 196.4 289.7 196.5 290.2 196.5C290.7 196.6 291.1 196.7 291.6 196.7C292.1 196.8 292.5 196.9 293 196.9C293.5 197 293.9 197.1 294.4 197.1C294.9 197.2 295.3 197.2 295.8 197.3C296.3 197.3 296.7 197.4 297.2 197.5C297.7 197.5 298.1 197.6 298.6 197.6C299.1 197.6 299.5 197.7 300 197.7C300.5 197.8 300.9 197.8 301.4 197.8C301.9 197.9 302.3 197.9 302.8 197.9C303.3 197.9 303.7 198 304.2 198C304.7 198 305.1 198 305.6 198.1C306.1 198.1 306.5 198.1 307 198.1C307.5 198.1 307.9 198.2 308.4 198.2C308.9 198.2 309.6 198.2 309.8 198.2" fill="none" stroke="#22c6d6" stroke-width="1.3" stroke-linejoin="round" stroke-linecap="round"/>
<path d="M109.6 113C109.7 111.9 110.1 108.6 110.3 106.4C110.5 104.1 110.8 101.9 111 99.8C111.2 97.6 111.5 95.4 111.7 93.3C111.9 91.1 112.2 88.9 112.4 86.9C112.6 84.9 112.9 82.9 113.1 81.3C113.3 79.7 113.6 78.3 113.8 77.1C114 75.9 114.3 74.8 114.5 74C114.7 73.2 115 72.5 115.2 72C115.4 71.5 115.7 71.3 115.9 71.2C116.1 71.1 116.4 71.2 116.6 71.5C116.8 71.8 117.1 72.3 117.3 73C117.5 73.7 117.8 74.5 118 75.7C118.2 76.9 118.5 78.3 118.7 80C118.9 81.7 119.2 83.8 119.4 86.1C119.6 88.4 119.9 90.9 120.1 93.8C120.3 96.6 120.6 99.9 120.8 103.3C121 106.6 121.3 110.4 121.5 113.7C121.7 117.1 122 120.3 122.2 123.5C122.4 126.6 122.7 129.9 122.9 132.8C123.1 135.7 123.4 138.5 123.6 141.1C123.8 143.7 124.1 146.3 124.3 148.5C124.5 150.8 124.9 153.8 125 154.8C125.1 155.8 124.8 153.4 125 154.8C125.2 156.2 125.9 161 126.4 163.2C126.9 165.5 127.3 167.1 127.8 168.4C128.3 169.7 128.7 170.5 129.2 171.2C129.7 171.9 130.1 172.3 130.6 172.6C131.1 173 131.5 173.2 132 173.4C132.5 173.5 132.9 173.7 133.4 173.8C133.9 173.9 134.3 173.9 134.8 173.9C135.3 173.9 135.7 173.9 136.2 173.7C136.7 173.6 137.1 173.4 137.6 173.2C138.1 172.9 138.5 172.7 139 172.3C139.5 171.9 139.9 171.4 140.4 170.9C140.9 170.3 141.3 169.8 141.8 169.2C142.3 168.6 142.7 167.9 143.2 167.2C143.7 166.5 144.1 165.8 144.6 164.9C145.1 164 145.5 163 146 162C146.5 161 146.9 159.9 147.4 158.8C147.9 157.8 148.3 156.7 148.8 155.6C149.3 154.5 149.7 153.3 150.2 152.2C150.7 151.1 151.1 149.9 151.6 149C152.1 148.1 152.5 147.4 153 146.8C153.5 146.2 153.9 145.7 154.4 145.3C154.9 144.9 155.3 144.6 155.8 144.4C156.3 144.2 156.7 144 157.2 144C157.7 144 158.1 144.2 158.6 144.5C159.1 144.8 159.5 145.3 160 145.9C160.5 146.4 160.9 147.2 161.4 148C161.9 148.8 162.3 149.7 162.8 150.7C163.3 151.7 163.7 152.8 164.2 154C164.7 155.1 165.1 156.4 165.6 157.7C166.1 158.9 166.5 160.1 167 161.3C167.5 162.6 167.9 163.9 168.4 165.1C168.9 166.3 169.3 167.5 169.8 168.6C170.3 169.8 170.7 171.1 171.2 172.1C171.7 173.1 172.1 173.9 172.6 174.7C173.1 175.6 173.5 176.3 174 177C174.5 177.7 174.9 178.3 175.4 178.9C175.9 179.5 176.3 180 176.8 180.5C177.3 180.9 177.7 181.3 178.2 181.7C178.7 182.1 179.1 182.5 179.6 182.8C180.1 183.2 180.5 183.5 181 183.9C181.5 184.2 181.9 184.5 182.4 184.8C182.9 185.1 183.3 185.4 183.8 185.7C184.3 186 184.7 186.3 185.2 186.6C185.7 186.9 186.1 187.2 186.6 187.4C187.1 187.7 187.5 187.9 188 188.2C188.5 188.4 188.9 188.6 189.4 188.9C189.9 189.1 190.3 189.3 190.8 189.5C191.3 189.7 191.7 189.9 192.2 190.1C192.7 190.3 193.1 190.5 193.6 190.7C194.1 190.9 194.5 191.1 195 191.2C195.5 191.4 195.9 191.6 196.4 191.7C196.9 191.9 197.3 192 197.8 192.1C198.3 192.3 198.7 192.4 199.2 192.5C199.7 192.6 200.1 192.8 200.6 192.9C201.1 193 201.5 193.1 202 193.1C202.5 193.2 202.9 193.2 203.4 193.3C203.9 193.3 204.3 193.3 204.8 193.3C205.3 193.3 205.7 193.3 206.2 193.3C206.7 193.2 207.1 193.2 207.6 193.1C208.1 193 208.5 192.9 209 192.9C209.5 192.8 209.9 192.6 210.4 192.5C210.9 192.4 211.3 192.3 211.8 192.2C212.3 192 212.7 191.9 213.2 191.7C213.7 191.6 214.1 191.4 214.6 191.3C215.1 191.1 215.5 191 216 190.8C216.5 190.6 216.9 190.5 217.4 190.3C217.9 190.1 218.3 189.9 218.8 189.7C219.3 189.5 219.7 189.4 220.2 189.2C220.7 189 221.1 188.7 221.6 188.5C222.1 188.3 222.5 188.1 223 187.9C223.5 187.6 223.9 187.4 224.4 187.1C224.9 186.9 225.3 186.6 225.8 186.3C226.3 186 226.7 185.7 227.2 185.4C227.7 185 228.1 184.7 228.6 184.3C229.1 183.9 229.5 183.6 230 183.1C230.5 182.7 230.9 182.3 231.4 181.9C231.9 181.4 232.3 181 232.8 180.5C233.3 180 233.7 179.6 234.2 179.1C234.7 178.6 235.1 178.1 235.6 177.6C236.1 177.1 236.5 176.5 237 176C237.5 175.4 237.9 174.8 238.4 174.3C238.9 173.7 239.3 173.2 239.8 172.6C240.3 172.1 240.7 171.5 241.2 171C241.7 170.5 242.1 170 242.6 169.6C243.1 169.1 243.5 168.7 244 168.3C244.5 167.8 244.9 167.5 245.4 167.1C245.9 166.7 246.3 166.3 246.8 166C247.3 165.6 247.7 165.3 248.2 164.9C248.7 164.6 249.1 164.3 249.6 163.9C250.1 163.6 250.5 163.3 251 162.9C251.5 162.6 251.9 162.3 252.4 162C252.9 161.6 253.3 161.3 253.8 160.8C254.3 160.4 254.7 159.9 255.2 159.3C255.7 158.8 256.1 158.2 256.6 157.6C257.1 157 257.5 156.4 258 155.7C258.5 155.1 258.9 154.4 259.4 153.8C259.9 153.1 260.3 152.4 260.8 151.8C261.3 151.2 261.7 150.6 262.2 150C262.7 149.5 263.1 149.1 263.6 148.7C264.1 148.3 264.5 148 265 147.7C265.5 147.4 265.9 147.2 266.4 147.2C266.9 147.2 267.3 147.2 267.8 147.5C268.3 147.7 268.7 148.2 269.2 148.7C269.7 149.3 270.1 149.9 270.6 151C271.1 152 271.5 153.3 272 155C272.5 156.8 272.9 159.1 273.4 161.4C273.9 163.7 274.3 166.3 274.8 168.6C275.3 171 275.7 173.3 276.2 175.5C276.7 177.7 277.1 180 277.6 181.9C278.1 183.8 278.5 185.5 279 186.8C279.5 188.2 279.9 189.3 280.4 190.2C280.9 191.2 281.3 191.9 281.8 192.5C282.3 193.2 282.7 193.6 283.2 194C283.7 194.4 284.1 194.7 284.6 195C285.1 195.3 285.5 195.5 286 195.7C286.5 195.9 286.9 196.1 287.4 196.2C287.9 196.3 288.3 196.3 288.8 196.4C289.3 196.5 289.7 196.5 290.2 196.6C290.7 196.6 291.1 196.7 291.6 196.8C292.1 196.8 292.5 196.9 293 197C293.5 197 293.9 197.1 294.4 197.2C294.9 197.2 295.3 197.3 295.8 197.3C296.3 197.4 296.7 197.4 297.2 197.5C297.7 197.5 298.1 197.6 298.6 197.6C299.1 197.7 299.5 197.7 300 197.7C300.5 197.8 300.9 197.8 301.4 197.9C301.9 197.9 302.3 197.9 302.8 197.9C303.3 198 303.7 198 304.2 198C304.7 198 305.1 198.1 305.6 198.1C306.1 198.1 306.5 198.1 307 198.1C307.5 198.2 307.9 198.2 308.4 198.2C308.9 198.2 309.6 198.2 309.8 198.2" fill="none" stroke="#3ad68c" stroke-width="1.3" stroke-linejoin="round" stroke-linecap="round"/>
<path d="M109.6 113C109.7 111.9 110.1 108.6 110.3 106.4C110.5 104.1 110.8 101.9 111 99.8C111.2 97.6 111.5 95.4 111.7 93.3C111.9 91.1 112.2 88.9 112.4 86.9C112.6 84.9 112.9 82.9 113.1 81.3C113.3 79.7 113.6 78.3 113.8 77.1C114 75.9 114.3 74.8 114.5 74C114.7 73.2 115 72.5 115.2 72C115.4 71.5 115.7 71.3 115.9 71.2C116.1 71.1 116.4 71.2 116.6 71.5C116.8 71.8 117.1 72.3 117.3 73C117.5 73.7 117.8 74.5 118 75.7C118.2 76.9 118.5 78.3 118.7 80C118.9 81.7 119.2 83.8 119.4 86.1C119.6 88.4 119.9 90.9 120.1 93.8C120.3 96.6 120.6 99.9 120.8 103.3C121 106.6 121.3 110.4 121.5 113.7C121.7 117.1 122 120.3 122.2 123.5C122.4 126.6 122.7 129.9 122.9 132.8C123.1 135.7 123.4 138.5 123.6 141.1C123.8 143.7 124.1 146.3 124.3 148.5C124.5 150.8 124.9 153.8 125 154.8C125.1 155.8 124.8 153.4 125 154.8C125.2 156.2 125.9 161 126.4 163.2C126.9 165.5 127.3 167.1 127.8 168.4C128.3 169.7 128.7 170.5 129.2 171.2C129.7 171.9 130.1 172.3 130.6 172.6C131.1 173 131.5 173.1 132 173.3C132.5 173.5 132.9 173.6 133.4 173.7C133.9 173.8 134.3 173.9 134.8 173.9C135.3 173.9 135.7 173.8 136.2 173.7C136.7 173.6 137.1 173.4 137.6 173.2C138.1 172.9 138.5 172.6 139 172.2C139.5 171.9 139.9 171.3 140.4 170.8C140.9 170.3 141.3 169.7 141.8 169.1C142.3 168.5 142.7 167.9 143.2 167.2C143.7 166.4 144.1 165.7 144.6 164.8C145.1 164 145.5 163 146 162C146.5 161 146.9 159.8 147.4 158.8C147.9 157.7 148.3 156.6 148.8 155.5C149.3 154.4 149.7 153.2 150.2 152.1C150.7 151 151.1 149.7 151.6 148.8C152.1 147.9 152.5 147.3 153 146.7C153.5 146.1 153.9 145.6 154.4 145.2C154.9 144.8 155.3 144.6 155.8 144.4C156.3 144.2 156.7 144.1 157.2 144.2C157.7 144.2 158.1 144.4 158.6 144.8C159.1 145.1 159.5 145.6 160 146.2C160.5 146.9 160.9 147.7 161.4 148.5C161.9 149.4 162.3 150.3 162.8 151.3C163.3 152.3 163.7 153.5 164.2 154.6C164.7 155.8 165.1 157.1 165.6 158.3C166.1 159.5 166.5 160.7 167 161.9C167.5 163.1 167.9 164.3 168.4 165.5C168.9 166.7 169.3 167.8 169.8 168.9C170.3 170 170.7 171.2 171.2 172.1C171.7 173.1 172.1 173.9 172.6 174.7C173.1 175.4 173.5 176.2 174 176.8C174.5 177.5 174.9 178.1 175.4 178.6C175.9 179.1 176.3 179.6 176.8 180.1C177.3 180.5 177.7 180.9 178.2 181.3C178.7 181.7 179.1 182 179.6 182.4C180.1 182.7 180.5 183.1 181 183.4C181.5 183.8 181.9 184.1 182.4 184.4C182.9 184.7 183.3 185.1 183.8 185.4C184.3 185.7 184.7 186 185.2 186.3C185.7 186.5 186.1 186.8 186.6 187.1C187.1 187.4 187.5 187.6 188 187.9C188.5 188.1 188.9 188.4 189.4 188.6C189.9 188.8 190.3 189.1 190.8 189.3C191.3 189.5 191.7 189.7 192.2 189.9C192.7 190.1 193.1 190.3 193.6 190.5C194.1 190.7 194.5 190.9 195 191.1C195.5 191.3 195.9 191.4 196.4 191.6C196.9 191.7 197.3 191.9 197.8 192C198.3 192.2 198.7 192.3 199.2 192.4C199.7 192.6 200.1 192.7 200.6 192.8C201.1 192.9 201.5 193 202 193.1C202.5 193.1 202.9 193.2 203.4 193.2C203.9 193.3 204.3 193.3 204.8 193.3C205.3 193.3 205.7 193.3 206.2 193.3C206.7 193.2 207.1 193.2 207.6 193.1C208.1 193.1 208.5 193 209 192.9C209.5 192.8 209.9 192.7 210.4 192.6C210.9 192.5 211.3 192.4 211.8 192.2C212.3 192.1 212.7 192 213.2 191.8C213.7 191.7 214.1 191.5 214.6 191.4C215.1 191.2 215.5 191.1 216 190.9C216.5 190.7 216.9 190.6 217.4 190.4C217.9 190.2 218.3 190 218.8 189.9C219.3 189.7 219.7 189.5 220.2 189.3C220.7 189.1 221.1 188.9 221.6 188.7C222.1 188.5 222.5 188.2 223 188C223.5 187.8 223.9 187.5 224.4 187.3C224.9 187 225.3 186.8 225.8 186.5C226.3 186.2 226.7 185.9 227.2 185.6C227.7 185.3 228.1 185 228.6 184.6C229.1 184.3 229.5 183.9 230 183.5C230.5 183.1 230.9 182.7 231.4 182.3C231.9 181.9 232.3 181.4 232.8 181C233.3 180.6 233.7 180.1 234.2 179.7C234.7 179.2 235.1 178.8 235.6 178.3C236.1 177.8 236.5 177.2 237 176.7C237.5 176.2 237.9 175.7 238.4 175.1C238.9 174.6 239.3 174.1 239.8 173.5C240.3 173 240.7 172.5 241.2 172C241.7 171.6 242.1 171.1 242.6 170.7C243.1 170.3 243.5 169.9 244 169.5C244.5 169.1 244.9 168.7 245.4 168.4C245.9 168 246.3 167.7 246.8 167.3C247.3 167 247.7 166.7 248.2 166.3C248.7 166 249.1 165.7 249.6 165.4C250.1 165.1 250.5 164.8 251 164.5C251.5 164.1 251.9 163.8 252.4 163.5C252.9 163.2 253.3 162.9 253.8 162.5C254.3 162.1 254.7 161.6 255.2 161.1C255.7 160.6 256.1 160.1 256.6 159.6C257.1 159 257.5 158.5 258 157.9C258.5 157.3 258.9 156.8 259.4 156.2C259.9 155.6 260.3 154.9 260.8 154.4C261.3 153.8 261.7 153.3 262.2 152.8C262.7 152.4 263.1 152 263.6 151.7C264.1 151.4 264.5 151 265 150.8C265.5 150.6 265.9 150.5 266.4 150.5C266.9 150.6 267.3 150.6 267.8 150.9C268.3 151.2 268.7 151.7 269.2 152.3C269.7 153 270.1 153.7 270.6 154.7C271.1 155.8 271.5 157.1 272 158.8C272.5 160.5 272.9 162.7 273.4 164.8C273.9 166.9 274.3 169.3 274.8 171.4C275.3 173.5 275.7 175.6 276.2 177.6C276.7 179.6 277.1 181.7 277.6 183.4C278.1 185.1 278.5 186.5 279 187.8C279.5 189 279.9 189.9 280.4 190.8C280.9 191.6 281.3 192.3 281.8 192.9C282.3 193.4 282.7 193.8 283.2 194.2C283.7 194.6 284.1 194.9 284.6 195.2C285.1 195.4 285.5 195.6 286 195.8C286.5 196 286.9 196.2 287.4 196.3C287.9 196.4 288.3 196.4 288.8 196.5C289.3 196.5 289.7 196.6 290.2 196.7C290.7 196.7 291.1 196.8 291.6 196.9C292.1 196.9 292.5 197 293 197C293.5 197.1 293.9 197.2 294.4 197.2C294.9 197.3 295.3 197.3 295.8 197.4C296.3 197.4 296.7 197.5 297.2 197.5C297.7 197.6 298.1 197.6 298.6 197.7C299.1 197.7 299.5 197.7 300 197.8C300.5 197.8 300.9 197.9 301.4 197.9C301.9 197.9 302.3 197.9 302.8 198C303.3 198 303.7 198 304.2 198C304.7 198.1 305.1 198.1 305.6 198.1C306.1 198.1 306.5 198.1 307 198.2C307.5 198.2 307.9 198.2 308.4 198.2C308.9 198.2 309.6 198.3 309.8 198.3" fill="none" stroke="#e8dc5a" stroke-width="1.3" stroke-linejoin="round" stroke-linecap="round"/>
<path d="M109.6 113C109.7 111.9 110.1 108.6 110.3 106.4C110.5 104.1 110.8 101.9 111 99.8C111.2 97.6 111.5 95.4 111.7 93.3C111.9 91.1 112.2 88.9 112.4 86.9C112.6 84.9 112.9 82.9 113.1 81.3C113.3 79.7 113.6 78.3 113.8 77.1C114 75.9 114.3 74.8 114.5 74C114.7 73.2 115 72.5 115.2 72C115.4 71.5 115.7 71.3 115.9 71.2C116.1 71.1 116.4 71.2 116.6 71.5C116.8 71.8 117.1 72.3 117.3 73C117.5 73.7 117.8 74.5 118 75.7C118.2 76.9 118.5 78.3 118.7 80C118.9 81.7 119.2 83.8 119.4 86.1C119.6 88.4 119.9 90.9 120.1 93.8C120.3 96.6 120.6 99.9 120.8 103.3C121 106.6 121.3 110.4 121.5 113.7C121.7 117.1 122 120.3 122.2 123.5C122.4 126.6 122.7 129.9 122.9 132.8C123.1 135.7 123.4 138.5 123.6 141.1C123.8 143.7 124.1 146.3 124.3 148.5C124.5 150.8 124.9 153.8 125 154.8C125.1 155.8 124.8 153.4 125 154.8C125.2 156.2 125.9 161 126.4 163.2C126.9 165.5 127.3 167.1 127.8 168.4C128.3 169.7 128.7 170.5 129.2 171.2C129.7 171.9 130.1 172.2 130.6 172.6C131.1 172.9 131.5 173.1 132 173.3C132.5 173.5 132.9 173.6 133.4 173.7C133.9 173.8 134.3 173.9 134.8 173.9C135.3 173.9 135.7 173.8 136.2 173.7C136.7 173.5 137.1 173.4 137.6 173.1C138.1 172.9 138.5 172.6 139 172.2C139.5 171.8 139.9 171.3 140.4 170.8C140.9 170.2 141.3 169.7 141.8 169.1C142.3 168.5 142.7 167.8 143.2 167.1C143.7 166.4 144.1 165.6 144.6 164.8C145.1 163.9 145.5 162.9 146 161.9C146.5 160.9 146.9 159.8 147.4 158.7C147.9 157.6 148.3 156.6 148.8 155.4C149.3 154.3 149.7 153.1 150.2 152C150.7 150.8 151.1 149.6 151.6 148.6C152.1 147.7 152.5 147.1 153 146.5C153.5 145.9 153.9 145.5 154.4 145.1C154.9 144.8 155.3 144.6 155.8 144.4C156.3 144.3 156.7 144.2 157.2 144.3C157.7 144.4 158.1 144.6 158.6 145C159.1 145.4 159.5 145.9 160 146.6C160.5 147.3 160.9 148.2 161.4 149.1C161.9 150 162.3 150.9 162.8 152C163.3 153 163.7 154.1 164.2 155.3C164.7 156.4 165.1 157.7 165.6 158.9C166.1 160.1 166.5 161.3 167 162.4C167.5 163.6 167.9 164.8 168.4 165.9C168.9 167 169.3 168.1 169.8 169.1C170.3 170.2 170.7 171.2 171.2 172.1C171.7 173.1 172.1 173.8 172.6 174.6C173.1 175.3 173.5 176 174 176.6C174.5 177.2 174.9 177.8 175.4 178.3C175.9 178.8 176.3 179.3 176.8 179.7C177.3 180.1 177.7 180.5 178.2 180.9C178.7 181.2 179.1 181.6 179.6 182C180.1 182.3 180.5 182.7 181 183C181.5 183.3 181.9 183.7 182.4 184C182.9 184.3 183.3 184.7 183.8 185C184.3 185.3 184.7 185.6 185.2 185.9C185.7 186.2 186.1 186.5 186.6 186.8C187.1 187 187.5 187.3 188 187.6C188.5 187.8 188.9 188.1 189.4 188.3C189.9 188.6 190.3 188.8 190.8 189C191.3 189.3 191.7 189.5 192.2 189.7C192.7 189.9 193.1 190.1 193.6 190.3C194.1 190.6 194.5 190.7 195 190.9C195.5 191.1 195.9 191.3 196.4 191.4C196.9 191.6 197.3 191.8 197.8 191.9C198.3 192.1 198.7 192.2 199.2 192.3C199.7 192.5 200.1 192.6 200.6 192.7C201.1 192.8 201.5 192.9 202 193C202.5 193.1 202.9 193.2 203.4 193.2C203.9 193.3 204.3 193.3 204.8 193.3C205.3 193.3 205.7 193.3 206.2 193.3C206.7 193.3 207.1 193.2 207.6 193.2C208.1 193.1 208.5 193 209 192.9C209.5 192.9 209.9 192.8 210.4 192.7C210.9 192.6 211.3 192.4 211.8 192.3C212.3 192.2 212.7 192 213.2 191.9C213.7 191.8 214.1 191.6 214.6 191.5C215.1 191.3 215.5 191.2 216 191C216.5 190.8 216.9 190.7 217.4 190.5C217.9 190.3 218.3 190.2 218.8 190C219.3 189.8 219.7 189.6 220.2 189.4C220.7 189.2 221.1 189 221.6 188.8C222.1 188.6 222.5 188.4 223 188.2C223.5 187.9 223.9 187.7 224.4 187.5C224.9 187.2 225.3 187 225.8 186.7C226.3 186.4 226.7 186.2 227.2 185.9C227.7 185.6 228.1 185.3 228.6 184.9C229.1 184.6 229.5 184.2 230 183.9C230.5 183.5 230.9 183.1 231.4 182.7C231.9 182.3 232.3 181.9 232.8 181.5C233.3 181.1 233.7 180.7 234.2 180.3C234.7 179.8 235.1 179.4 235.6 178.9C236.1 178.5 236.5 178 237 177.5C237.5 177 237.9 176.5 238.4 176C238.9 175.5 239.3 175 239.8 174.5C240.3 174 240.7 173.5 241.2 173.1C241.7 172.6 242.1 172.2 242.6 171.8C243.1 171.4 243.5 171 244 170.7C244.5 170.3 244.9 170 245.4 169.7C245.9 169.3 246.3 169 246.8 168.7C247.3 168.4 247.7 168.1 248.2 167.8C248.7 167.5 249.1 167.2 249.6 166.9C250.1 166.6 250.5 166.3 251 166C251.5 165.7 251.9 165.4 252.4 165.1C252.9 164.7 253.3 164.5 253.8 164.1C254.3 163.7 254.7 163.3 255.2 162.9C255.7 162.5 256.1 162 256.6 161.5C257.1 161.1 257.5 160.6 258 160.1C258.5 159.6 258.9 159.1 259.4 158.6C259.9 158 260.3 157.4 260.8 156.9C261.3 156.5 261.7 156 262.2 155.6C262.7 155.2 263.1 154.9 263.6 154.7C264.1 154.4 264.5 154.1 265 154C265.5 153.9 265.9 153.8 266.4 153.9C266.9 153.9 267.3 154 267.8 154.4C268.3 154.7 268.7 155.2 269.2 155.9C269.7 156.6 270.1 157.4 270.6 158.5C271.1 159.6 271.5 160.9 272 162.5C272.5 164.2 272.9 166.3 273.4 168.2C273.9 170.1 274.3 172.3 274.8 174.2C275.3 176.1 275.7 178 276.2 179.8C276.7 181.5 277.1 183.4 277.6 184.9C278.1 186.4 278.5 187.6 279 188.7C279.5 189.8 279.9 190.6 280.4 191.3C280.9 192.1 281.3 192.7 281.8 193.2C282.3 193.7 282.7 194.1 283.2 194.4C283.7 194.8 284.1 195.1 284.6 195.3C285.1 195.6 285.5 195.8 286 195.9C286.5 196.1 286.9 196.2 287.4 196.3C287.9 196.4 288.3 196.5 288.8 196.5C289.3 196.6 289.7 196.7 290.2 196.7C290.7 196.8 291.1 196.9 291.6 196.9C292.1 197 292.5 197 293 197.1C293.5 197.2 293.9 197.2 294.4 197.3C294.9 197.3 295.3 197.4 295.8 197.4C296.3 197.5 296.7 197.5 297.2 197.6C297.7 197.6 298.1 197.7 298.6 197.7C299.1 197.7 299.5 197.8 300 197.8C300.5 197.8 300.9 197.9 301.4 197.9C301.9 197.9 302.3 198 302.8 198C303.3 198 303.7 198 304.2 198.1C304.7 198.1 305.1 198.1 305.6 198.1C306.1 198.1 306.5 198.2 307 198.2C307.5 198.2 307.9 198.2 308.4 198.2C308.9 198.3 309.6 198.3 309.8 198.3" fill="none" stroke="#f0a040" stroke-width="1.3" stroke-linejoin="round" stroke-linecap="round"/>
<path d="M109.6 113C109.7 111.9 110.1 108.6 110.3 106.4C110.5 104.1 110.8 101.9 111 99.8C111.2 97.6 111.5 95.4 111.7 93.3C111.9 91.1 112.2 88.9 112.4 86.9C112.6 84.9 112.9 82.9 113.1 81.3C113.3 79.7 113.6 78.3 113.8 77.1C114 75.9 114.3 74.8 114.5 74C114.7 73.2 115 72.5 115.2 72C115.4 71.5 115.7 71.3 115.9 71.2C116.1 71.1 116.4 71.2 116.6 71.5C116.8 71.8 117.1 72.3 117.3 73C117.5 73.7 117.8 74.5 118 75.7C118.2 76.9 118.5 78.3 118.7 80C118.9 81.7 119.2 83.8 119.4 86.1C119.6 88.4 119.9 90.9 120.1 93.8C120.3 96.6 120.6 99.9 120.8 103.3C121 106.6 121.3 110.4 121.5 113.7C121.7 117.1 122 120.3 122.2 123.5C122.4 126.6 122.7 129.9 122.9 132.8C123.1 135.7 123.4 138.5 123.6 141.1C123.8 143.7 124.1 146.3 124.3 148.5C124.5 150.8 124.9 153.8 125 154.8C125.1 155.8 124.8 153.4 125 154.8C125.2 156.2 125.9 161 126.4 163.2C126.9 165.5 127.3 167.1 127.8 168.4C128.3 169.7 128.7 170.5 129.2 171.2C129.7 171.9 130.1 172.2 130.6 172.5C131.1 172.9 131.5 173.1 132 173.2C132.5 173.4 132.9 173.6 133.4 173.7C133.9 173.8 134.3 173.8 134.8 173.8C135.3 173.8 135.7 173.8 136.2 173.6C136.7 173.5 137.1 173.3 137.6 173.1C138.1 172.8 138.5 172.6 139 172.2C139.5 171.8 139.9 171.2 140.4 170.7C140.9 170.2 141.3 169.6 141.8 169C142.3 168.4 142.7 167.8 143.2 167.1C143.7 166.3 144.1 165.6 144.6 164.7C145.1 163.9 145.5 162.9 146 161.8C146.5 160.8 146.9 159.7 147.4 158.6C147.9 157.5 148.3 156.5 148.8 155.3C149.3 154.2 149.7 153 150.2 151.8C150.7 150.7 151.1 149.4 151.6 148.5C152.1 147.6 152.5 146.9 153 146.4C153.5 145.8 153.9 145.4 154.4 145C154.9 144.7 155.3 144.5 155.8 144.4C156.3 144.4 156.7 144.3 157.2 144.5C157.7 144.6 158.1 144.9 158.6 145.3C159.1 145.7 159.5 146.3 160 147C160.5 147.7 160.9 148.7 161.4 149.6C161.9 150.5 162.3 151.5 162.8 152.6C163.3 153.7 163.7 154.8 164.2 155.9C164.7 157.1 165.1 158.4 165.6 159.6C166.1 160.7 166.5 161.9 167 163C167.5 164.1 167.9 165.3 168.4 166.4C168.9 167.4 169.3 168.4 169.8 169.4C170.3 170.3 170.7 171.3 171.2 172.2C171.7 173 172.1 173.8 172.6 174.5C173.1 175.2 173.5 175.9 174 176.4C174.5 177 174.9 177.5 175.4 178C175.9 178.5 176.3 178.9 176.8 179.3C177.3 179.7 177.7 180.1 178.2 180.5C178.7 180.8 179.1 181.2 179.6 181.5C180.1 181.9 180.5 182.2 181 182.6C181.5 182.9 181.9 183.3 182.4 183.6C182.9 183.9 183.3 184.3 183.8 184.6C184.3 184.9 184.7 185.2 185.2 185.5C185.7 185.8 186.1 186.1 186.6 186.4C187.1 186.7 187.5 187 188 187.3C188.5 187.5 188.9 187.8 189.4 188.1C189.9 188.3 190.3 188.6 190.8 188.8C191.3 189 191.7 189.3 192.2 189.5C192.7 189.7 193.1 190 193.6 190.2C194.1 190.4 194.5 190.6 195 190.8C195.5 191 195.9 191.2 196.4 191.3C196.9 191.5 197.3 191.6 197.8 191.8C198.3 192 198.7 192.1 199.2 192.2C199.7 192.4 200.1 192.5 200.6 192.6C201.1 192.8 201.5 192.9 202 192.9C202.5 193 202.9 193.1 203.4 193.2C203.9 193.2 204.3 193.3 204.8 193.3C205.3 193.3 205.7 193.3 206.2 193.3C206.7 193.3 207.1 193.2 207.6 193.2C208.1 193.1 208.5 193.1 209 193C209.5 192.9 209.9 192.8 210.4 192.7C210.9 192.6 211.3 192.5 211.8 192.4C212.3 192.3 212.7 192.1 213.2 192C213.7 191.9 214.1 191.7 214.6 191.6C215.1 191.4 215.5 191.3 216 191.1C216.5 191 216.9 190.8 217.4 190.6C217.9 190.4 218.3 190.3 218.8 190.1C219.3 189.9 219.7 189.7 220.2 189.5C220.7 189.3 221.1 189.1 221.6 188.9C222.1 188.7 222.5 188.5 223 188.3C223.5 188.1 223.9 187.9 224.4 187.6C224.9 187.4 225.3 187.2 225.8 186.9C226.3 186.7 226.7 186.4 227.2 186.1C227.7 185.8 228.1 185.5 228.6 185.2C229.1 184.9 229.5 184.6 230 184.2C230.5 183.9 230.9 183.5 231.4 183.2C231.9 182.8 232.3 182.4 232.8 182C233.3 181.6 233.7 181.3 234.2 180.8C234.7 180.4 235.1 180 235.6 179.6C236.1 179.2 236.5 178.7 237 178.2C237.5 177.8 237.9 177.3 238.4 176.8C238.9 176.3 239.3 175.9 239.8 175.4C240.3 175 240.7 174.5 241.2 174.1C241.7 173.7 242.1 173.3 242.6 172.9C243.1 172.6 243.5 172.2 244 171.9C244.5 171.6 244.9 171.3 245.4 171C245.9 170.7 246.3 170.4 246.8 170.1C247.3 169.8 247.7 169.5 248.2 169.2C248.7 168.9 249.1 168.6 249.6 168.4C250.1 168.1 250.5 167.8 251 167.5C251.5 167.2 251.9 166.9 252.4 166.6C252.9 166.3 253.3 166 253.8 165.7C254.3 165.4 254.7 165 255.2 164.7C255.7 164.3 256.1 163.9 256.6 163.5C257.1 163.1 257.5 162.7 258 162.3C258.5 161.9 258.9 161.4 259.4 161C259.9 160.5 260.3 160 260.8 159.5C261.3 159.1 261.7 158.7 262.2 158.4C262.7 158.1 263.1 157.8 263.6 157.6C264.1 157.4 264.5 157.2 265 157.1C265.5 157.1 265.9 157.1 266.4 157.2C266.9 157.3 267.3 157.4 267.8 157.8C268.3 158.2 268.7 158.8 269.2 159.5C269.7 160.2 270.1 161.1 270.6 162.2C271.1 163.4 271.5 164.7 272 166.3C272.5 167.9 272.9 169.8 273.4 171.6C273.9 173.4 274.3 175.3 274.8 177C275.3 178.7 275.7 180.3 276.2 181.9C276.7 183.4 277.1 185 277.6 186.3C278.1 187.6 278.5 188.7 279 189.7C279.5 190.6 279.9 191.3 280.4 191.9C280.9 192.6 281.3 193.1 281.8 193.5C282.3 194 282.7 194.3 283.2 194.6C283.7 195 284.1 195.2 284.6 195.5C285.1 195.7 285.5 195.9 286 196C286.5 196.2 286.9 196.3 287.4 196.4C287.9 196.5 288.3 196.5 288.8 196.6C289.3 196.7 289.7 196.7 290.2 196.8C290.7 196.9 291.1 196.9 291.6 197C292.1 197.1 292.5 197.1 293 197.2C293.5 197.2 293.9 197.3 294.4 197.3C294.9 197.4 295.3 197.4 295.8 197.5C296.3 197.5 296.7 197.6 297.2 197.6C297.7 197.7 298.1 197.7 298.6 197.7C299.1 197.8 299.5 197.8 300 197.8C300.5 197.9 300.9 197.9 301.4 197.9C301.9 198 302.3 198 302.8 198C303.3 198 303.7 198.1 304.2 198.1C304.7 198.1 305.1 198.1 305.6 198.2C306.1 198.2 306.5 198.2 307 198.2C307.5 198.2 307.9 198.2 308.4 198.3C308.9 198.3 309.6 198.3 309.8 198.3" fill="none" stroke="#ff7f3a" stroke-width="1.3" stroke-linejoin="round" stroke-linecap="round"/>
<path d="M109.6 113C109.7 111.9 110.1 108.6 110.3 106.4C110.5 104.1 110.8 101.9 111 99.8C111.2 97.6 111.5 95.4 111.7 93.3C111.9 91.1 112.2 88.9 112.4 86.9C112.6 84.9 112.9 82.9 113.1 81.3C113.3 79.7 113.6 78.3 113.8 77.1C114 75.9 114.3 74.8 114.5 74C114.7 73.2 115 72.5 115.2 72C115.4 71.5 115.7 71.3 115.9 71.2C116.1 71.1 116.4 71.2 116.6 71.5C116.8 71.8 117.1 72.3 117.3 73C117.5 73.7 117.8 74.5 118 75.7C118.2 76.9 118.5 78.3 118.7 80C118.9 81.7 119.2 83.8 119.4 86.1C119.6 88.4 119.9 90.9 120.1 93.8C120.3 96.6 120.6 99.9 120.8 103.3C121 106.6 121.3 110.4 121.5 113.7C121.7 117.1 122 120.3 122.2 123.5C122.4 126.6 122.7 129.9 122.9 132.8C123.1 135.7 123.4 138.5 123.6 141.1C123.8 143.7 124.1 146.3 124.3 148.5C124.5 150.8 124.9 153.8 125 154.8C125.1 155.8 124.8 153.4 125 154.8C125.2 156.2 125.9 161 126.4 163.2C126.9 165.5 127.3 167.1 127.8 168.4C128.3 169.7 128.7 170.4 129.2 171.1C129.7 171.8 130.1 172.1 130.6 172.5C131.1 172.8 131.5 173 132 173.2C132.5 173.4 132.9 173.5 133.4 173.6C133.9 173.7 134.3 173.8 134.8 173.8C135.3 173.8 135.7 173.7 136.2 173.6C136.7 173.5 137.1 173.3 137.6 173C138.1 172.8 138.5 172.5 139 172.1C139.5 171.7 139.9 171.2 140.4 170.6C140.9 170.1 141.3 169.5 141.8 168.9C142.3 168.3 142.7 167.7 143.2 167C143.7 166.3 144.1 165.5 144.6 164.6C145.1 163.8 145.5 162.8 146 161.7C146.5 160.7 146.9 159.6 147.4 158.5C147.9 157.4 148.3 156.3 148.8 155.2C149.3 154.1 149.7 152.8 150.2 151.6C150.7 150.4 151.1 149.1 151.6 148.2C152.1 147.3 152.5 146.7 153 146.1C153.5 145.6 153.9 145.2 154.4 144.9C154.9 144.6 155.3 144.5 155.8 144.5C156.3 144.4 156.7 144.5 157.2 144.7C157.7 144.9 158.1 145.2 158.6 145.7C159.1 146.2 159.5 146.8 160 147.6C160.5 148.4 160.9 149.5 161.4 150.5C161.9 151.5 162.3 152.6 162.8 153.6C163.3 154.7 163.7 155.8 164.2 157C164.7 158.2 165.1 159.4 165.6 160.6C166.1 161.8 166.5 162.9 167 163.9C167.5 165 167.9 166.1 168.4 167.1C168.9 168 169.3 168.9 169.8 169.8C170.3 170.6 170.7 171.5 171.2 172.2C171.7 173 172.1 173.7 172.6 174.4C173.1 175 173.5 175.6 174 176.1C174.5 176.6 174.9 177.1 175.4 177.5C175.9 177.9 176.3 178.3 176.8 178.7C177.3 179.1 177.7 179.4 178.2 179.8C178.7 180.1 179.1 180.5 179.6 180.8C180.1 181.2 180.5 181.5 181 181.9C181.5 182.2 181.9 182.6 182.4 182.9C182.9 183.3 183.3 183.6 183.8 184C184.3 184.3 184.7 184.6 185.2 185C185.7 185.3 186.1 185.6 186.6 185.9C187.1 186.2 187.5 186.5 188 186.8C188.5 187.1 188.9 187.3 189.4 187.6C189.9 187.9 190.3 188.1 190.8 188.4C191.3 188.7 191.7 188.9 192.2 189.2C192.7 189.4 193.1 189.6 193.6 189.9C194.1 190.1 194.5 190.3 195 190.5C195.5 190.7 195.9 190.9 196.4 191.1C196.9 191.3 197.3 191.5 197.8 191.6C198.3 191.8 198.7 191.9 199.2 192.1C199.7 192.2 200.1 192.4 200.6 192.5C201.1 192.6 201.5 192.8 202 192.9C202.5 193 202.9 193 203.4 193.1C203.9 193.2 204.3 193.2 204.8 193.3C205.3 193.3 205.7 193.3 206.2 193.3C206.7 193.3 207.1 193.3 207.6 193.2C208.1 193.2 208.5 193.1 209 193.1C209.5 193 209.9 192.9 210.4 192.8C210.9 192.7 211.3 192.6 211.8 192.5C212.3 192.4 212.7 192.3 213.2 192.1C213.7 192 214.1 191.9 214.6 191.7C215.1 191.6 215.5 191.4 216 191.3C216.5 191.1 216.9 191 217.4 190.8C217.9 190.6 218.3 190.5 218.8 190.3C219.3 190.1 219.7 189.9 220.2 189.7C220.7 189.5 221.1 189.4 221.6 189.2C222.1 189 222.5 188.8 223 188.6C223.5 188.4 223.9 188.1 224.4 187.9C224.9 187.7 225.3 187.5 225.8 187.3C226.3 187 226.7 186.8 227.2 186.5C227.7 186.3 228.1 186 228.6 185.7C229.1 185.4 229.5 185.1 230 184.8C230.5 184.5 230.9 184.2 231.4 183.9C231.9 183.5 232.3 183.2 232.8 182.9C233.3 182.5 233.7 182.2 234.2 181.8C234.7 181.4 235.1 181.1 235.6 180.7C236.1 180.3 236.5 179.9 237 179.5C237.5 179 237.9 178.6 238.4 178.2C238.9 177.8 239.3 177.4 239.8 177C240.3 176.6 240.7 176.2 241.2 175.8C241.7 175.4 242.1 175.1 242.6 174.8C243.1 174.5 243.5 174.2 244 173.9C244.5 173.6 244.9 173.3 245.4 173.1C245.9 172.8 246.3 172.6 246.8 172.3C247.3 172.1 247.7 171.8 248.2 171.6C248.7 171.3 249.1 171 249.6 170.8C250.1 170.5 250.5 170.2 251 170C251.5 169.7 251.9 169.4 252.4 169.2C252.9 168.9 253.3 168.6 253.8 168.4C254.3 168.1 254.7 167.8 255.2 167.6C255.7 167.3 256.1 167 256.6 166.7C257.1 166.5 257.5 166.2 258 165.9C258.5 165.6 258.9 165.2 259.4 164.9C259.9 164.5 260.3 164.1 260.8 163.8C261.3 163.4 261.7 163.2 262.2 162.9C262.7 162.7 263.1 162.6 263.6 162.4C264.1 162.3 264.5 162.2 265 162.3C265.5 162.3 265.9 162.5 266.4 162.7C266.9 162.9 267.3 163 267.8 163.5C268.3 163.9 268.7 164.6 269.2 165.4C269.7 166.2 270.1 167.2 270.6 168.4C271.1 169.6 271.5 171 272 172.5C272.5 173.9 272.9 175.7 273.4 177.2C273.9 178.7 274.3 180.2 274.8 181.5C275.3 182.9 275.7 184.2 276.2 185.4C276.7 186.6 277.1 187.8 277.6 188.7C278.1 189.7 278.5 190.5 279 191.2C279.5 191.9 279.9 192.4 280.4 192.8C280.9 193.3 281.3 193.7 281.8 194.1C282.3 194.4 282.7 194.7 283.2 195C283.7 195.3 284.1 195.5 284.6 195.7C285.1 196 285.5 196.1 286 196.3C286.5 196.4 286.9 196.5 287.4 196.5C287.9 196.6 288.3 196.7 288.8 196.7C289.3 196.8 289.7 196.9 290.2 196.9C290.7 197 291.1 197.1 291.6 197.1C292.1 197.2 292.5 197.2 293 197.3C293.5 197.3 293.9 197.4 294.4 197.4C294.9 197.5 295.3 197.5 295.8 197.6C296.3 197.6 296.7 197.6 297.2 197.7C297.7 197.7 298.1 197.8 298.6 197.8C299.1 197.8 299.5 197.9 300 197.9C300.5 197.9 300.9 198 301.4 198C301.9 198 302.3 198 302.8 198.1C303.3 198.1 303.7 198.1 304.2 198.1C304.7 198.2 305.1 198.2 305.6 198.2C306.1 198.2 306.5 198.2 307 198.2C307.5 198.3 307.9 198.3 308.4 198.3C308.9 198.3 309.6 198.3 309.8 198.4" fill="none" stroke="#ff0a0a" stroke-width="1.3" stroke-linejoin="round" stroke-linecap="round"/>
<text x="124.6" y="213.5" font-size="11.5" fill="#000" text-anchor="middle">300</text>
<text x="161.9" y="213.5" font-size="11.5" fill="#000" text-anchor="middle">400</text>
<text x="199.3" y="213.5" font-size="11.5" fill="#000" text-anchor="middle">500</text>
<text x="236.7" y="213.5" font-size="11.5" fill="#000" text-anchor="middle">600</text>
<text x="274.1" y="213.5" font-size="11.5" fill="#000" text-anchor="middle">700</text>
<text x="311.5" y="213.5" font-size="11.5" fill="#000" text-anchor="middle">800</text>
<text x="105.4" y="204.5" font-size="11.5" fill="#000" text-anchor="end">0.0</text>
<text x="105.4" y="142" font-size="11.5" fill="#000" text-anchor="end">0.5</text>
<text x="105.4" y="79.5" font-size="11.5" fill="#000" text-anchor="end">1.0</text>
<text x="210.7" y="233.9" font-size="13.9" fill="#000" text-anchor="middle">Wavelength (nm)</text>
<text x="81.8" y="119.8" font-size="13.9" fill="#000" text-anchor="middle" transform="rotate(-90 81.8 119.8)">Absorbance</text>
<text x="160.4" y="75.6" font-size="16.8" fill="#000" text-anchor="middle">Soret</text>
<text x="160.4" y="92.9" font-size="16.8" fill="#000" text-anchor="middle">band</text>
<text x="258.5" y="122.4" font-size="16.8" fill="#000" text-anchor="middle">Q band</text>
<rect x="293.6" y="19.3" width="53.1" height="113.7" fill="#fff" stroke="#c8c8c8" stroke-width="0.9"/>
<line x1="294.4" y1="25.6" x2="315.6" y2="25.6" stroke="#c4c4c4" stroke-width="1.5"/>
<text x="318.4" y="28.9" font-size="9.1" fill="#000">BV</text>
<line x1="294.4" y1="36.9" x2="315.6" y2="36.9" stroke="#ff0a0a" stroke-width="1.5"/>
<text x="318.4" y="40.2" font-size="9.1" fill="#000">1 min</text>
<line x1="294.4" y1="48.2" x2="315.6" y2="48.2" stroke="#ff7f3a" stroke-width="1.5"/>
<text x="318.4" y="51.5" font-size="9.1" fill="#000">2 min</text>
<line x1="294.4" y1="59.5" x2="315.6" y2="59.5" stroke="#f0a040" stroke-width="1.5"/>
<text x="318.4" y="62.8" font-size="9.1" fill="#000">4 min</text>
<line x1="294.4" y1="70.8" x2="315.6" y2="70.8" stroke="#e8dc5a" stroke-width="1.5"/>
<text x="318.4" y="74.1" font-size="9.1" fill="#000">6 min</text>
<line x1="294.4" y1="82.1" x2="315.6" y2="82.1" stroke="#3ad68c" stroke-width="1.5"/>
<text x="318.4" y="85.4" font-size="9.1" fill="#000">9 min</text>
<line x1="294.4" y1="93.4" x2="315.6" y2="93.4" stroke="#22c6d6" stroke-width="1.5"/>
<text x="318.4" y="96.7" font-size="9.1" fill="#000">12 min</text>
<line x1="294.4" y1="104.7" x2="315.6" y2="104.7" stroke="#2aa8ff" stroke-width="1.5"/>
<text x="318.4" y="108" font-size="9.1" fill="#000">20 min</text>
<line x1="294.4" y1="116" x2="315.6" y2="116" stroke="#4d63ff" stroke-width="1.5"/>
<text x="318.4" y="119.3" font-size="9.1" fill="#000">30 min</text>
<line x1="294.4" y1="127.3" x2="315.6" y2="127.3" stroke="#7a22e8" stroke-width="1.5"/>
<text x="318.4" y="130.6" font-size="9.1" fill="#000">60 min</text>
<text x="382.5" y="14.2" font-size="18.5" fill="#000" font-weight="bold">b</text>
<line x1="394.7" y1="197.3" x2="394.7" y2="193.7" stroke="#3a3a3a" stroke-width="1.1"/>
<line x1="394.7" y1="35.6" x2="394.7" y2="39.2" stroke="#3a3a3a" stroke-width="1.1"/>
<line x1="417.1" y1="197.3" x2="417.1" y2="193.7" stroke="#3a3a3a" stroke-width="1.1"/>
<line x1="417.1" y1="35.6" x2="417.1" y2="39.2" stroke="#3a3a3a" stroke-width="1.1"/>
<line x1="439.6" y1="197.3" x2="439.6" y2="193.7" stroke="#3a3a3a" stroke-width="1.1"/>
<line x1="439.6" y1="35.6" x2="439.6" y2="39.2" stroke="#3a3a3a" stroke-width="1.1"/>
<line x1="462" y1="197.3" x2="462" y2="193.7" stroke="#3a3a3a" stroke-width="1.1"/>
<line x1="462" y1="35.6" x2="462" y2="39.2" stroke="#3a3a3a" stroke-width="1.1"/>
<line x1="484.4" y1="197.3" x2="484.4" y2="193.7" stroke="#3a3a3a" stroke-width="1.1"/>
<line x1="484.4" y1="35.6" x2="484.4" y2="39.2" stroke="#3a3a3a" stroke-width="1.1"/>
<line x1="506.9" y1="197.3" x2="506.9" y2="193.7" stroke="#3a3a3a" stroke-width="1.1"/>
<line x1="506.9" y1="35.6" x2="506.9" y2="39.2" stroke="#3a3a3a" stroke-width="1.1"/>
<line x1="529.3" y1="197.3" x2="529.3" y2="193.7" stroke="#3a3a3a" stroke-width="1.1"/>
<line x1="529.3" y1="35.6" x2="529.3" y2="39.2" stroke="#3a3a3a" stroke-width="1.1"/>
<line x1="551.7" y1="197.3" x2="551.7" y2="193.7" stroke="#3a3a3a" stroke-width="1.1"/>
<line x1="551.7" y1="35.6" x2="551.7" y2="39.2" stroke="#3a3a3a" stroke-width="1.1"/>
<line x1="574.2" y1="197.3" x2="574.2" y2="193.7" stroke="#3a3a3a" stroke-width="1.1"/>
<line x1="574.2" y1="35.6" x2="574.2" y2="39.2" stroke="#3a3a3a" stroke-width="1.1"/>
<line x1="596.6" y1="197.3" x2="596.6" y2="193.7" stroke="#3a3a3a" stroke-width="1.1"/>
<line x1="596.6" y1="35.6" x2="596.6" y2="39.2" stroke="#3a3a3a" stroke-width="1.1"/>
<line x1="405.9" y1="197.3" x2="405.9" y2="195.3" stroke="#3a3a3a" stroke-width="1.1"/>
<line x1="405.9" y1="35.6" x2="405.9" y2="37.6" stroke="#3a3a3a" stroke-width="1.1"/>
<line x1="428.4" y1="197.3" x2="428.4" y2="195.3" stroke="#3a3a3a" stroke-width="1.1"/>
<line x1="428.4" y1="35.6" x2="428.4" y2="37.6" stroke="#3a3a3a" stroke-width="1.1"/>
<line x1="450.8" y1="197.3" x2="450.8" y2="195.3" stroke="#3a3a3a" stroke-width="1.1"/>
<line x1="450.8" y1="35.6" x2="450.8" y2="37.6" stroke="#3a3a3a" stroke-width="1.1"/>
<line x1="473.2" y1="197.3" x2="473.2" y2="195.3" stroke="#3a3a3a" stroke-width="1.1"/>
<line x1="473.2" y1="35.6" x2="473.2" y2="37.6" stroke="#3a3a3a" stroke-width="1.1"/>
<line x1="495.6" y1="197.3" x2="495.6" y2="195.3" stroke="#3a3a3a" stroke-width="1.1"/>
<line x1="495.6" y1="35.6" x2="495.6" y2="37.6" stroke="#3a3a3a" stroke-width="1.1"/>
<line x1="518.1" y1="197.3" x2="518.1" y2="195.3" stroke="#3a3a3a" stroke-width="1.1"/>
<line x1="518.1" y1="35.6" x2="518.1" y2="37.6" stroke="#3a3a3a" stroke-width="1.1"/>
<line x1="540.5" y1="197.3" x2="540.5" y2="195.3" stroke="#3a3a3a" stroke-width="1.1"/>
<line x1="540.5" y1="35.6" x2="540.5" y2="37.6" stroke="#3a3a3a" stroke-width="1.1"/>
<line x1="563" y1="197.3" x2="563" y2="195.3" stroke="#3a3a3a" stroke-width="1.1"/>
<line x1="563" y1="35.6" x2="563" y2="37.6" stroke="#3a3a3a" stroke-width="1.1"/>
<line x1="585.4" y1="197.3" x2="585.4" y2="195.3" stroke="#3a3a3a" stroke-width="1.1"/>
<line x1="585.4" y1="35.6" x2="585.4" y2="37.6" stroke="#3a3a3a" stroke-width="1.1"/>
<line x1="394.7" y1="198.2" x2="398.3" y2="198.2" stroke="#3a3a3a" stroke-width="1.1"/>
<line x1="596.6" y1="198.2" x2="593" y2="198.2" stroke="#3a3a3a" stroke-width="1.1"/>
<line x1="394.7" y1="168.6" x2="398.3" y2="168.6" stroke="#3a3a3a" stroke-width="1.1"/>
<line x1="596.6" y1="168.6" x2="593" y2="168.6" stroke="#3a3a3a" stroke-width="1.1"/>
<line x1="394.7" y1="139" x2="398.3" y2="139" stroke="#3a3a3a" stroke-width="1.1"/>
<line x1="596.6" y1="139" x2="593" y2="139" stroke="#3a3a3a" stroke-width="1.1"/>
<line x1="394.7" y1="109.4" x2="398.3" y2="109.4" stroke="#3a3a3a" stroke-width="1.1"/>
<line x1="596.6" y1="109.4" x2="593" y2="109.4" stroke="#3a3a3a" stroke-width="1.1"/>
<line x1="394.7" y1="79.8" x2="398.3" y2="79.8" stroke="#3a3a3a" stroke-width="1.1"/>
<line x1="596.6" y1="79.8" x2="593" y2="79.8" stroke="#3a3a3a" stroke-width="1.1"/>
<line x1="394.7" y1="50.2" x2="398.3" y2="50.2" stroke="#3a3a3a" stroke-width="1.1"/>
<line x1="596.6" y1="50.2" x2="593" y2="50.2" stroke="#3a3a3a" stroke-width="1.1"/>
<line x1="394.7" y1="183.4" x2="396.7" y2="183.4" stroke="#3a3a3a" stroke-width="1.1"/>
<line x1="596.6" y1="183.4" x2="594.6" y2="183.4" stroke="#3a3a3a" stroke-width="1.1"/>
<line x1="394.7" y1="153.8" x2="396.7" y2="153.8" stroke="#3a3a3a" stroke-width="1.1"/>
<line x1="596.6" y1="153.8" x2="594.6" y2="153.8" stroke="#3a3a3a" stroke-width="1.1"/>
<line x1="394.7" y1="124.2" x2="396.7" y2="124.2" stroke="#3a3a3a" stroke-width="1.1"/>
<line x1="596.6" y1="124.2" x2="594.6" y2="124.2" stroke="#3a3a3a" stroke-width="1.1"/>
<line x1="394.7" y1="94.6" x2="396.7" y2="94.6" stroke="#3a3a3a" stroke-width="1.1"/>
<line x1="596.6" y1="94.6" x2="594.6" y2="94.6" stroke="#3a3a3a" stroke-width="1.1"/>
<line x1="394.7" y1="65" x2="396.7" y2="65" stroke="#3a3a3a" stroke-width="1.1"/>
<line x1="596.6" y1="65" x2="594.6" y2="65" stroke="#3a3a3a" stroke-width="1.1"/>
<rect x="394.7" y="35.6" width="201.9" height="161.7" fill="none" stroke="#3a3a3a" stroke-width="1.1"/>
<path d="M394.9 118.2C395.4 116.2 396.9 109.7 398 106C399.1 102.3 400.5 99.3 401.7 96.3C402.9 93.3 403.9 90.2 405 88C406.1 85.8 407.1 84.1 408 83C408.9 81.9 409.4 81.5 410.1 81.4C410.9 81.3 411.7 81.6 412.5 82.5C413.3 83.4 414.1 85.2 415 87C415.9 88.8 416.7 90.6 417.7 93.4C418.7 96.2 420 100.6 421 104C422 107.4 422.8 110.9 423.6 114C424.4 117.1 425.2 119.6 426 122.5C426.8 125.4 427.4 128.5 428.2 131.5C428.9 134.5 429.2 136.6 430.5 140.3C431.8 144 434 150.1 435.7 153.6C437.4 157.1 438.8 159.1 440.5 161.5C442.2 163.9 444.1 165.8 445.9 167.9C447.6 170 449.3 172.1 451 174C452.7 175.9 454.4 177.7 456.1 179.2C457.8 180.7 459.3 182 461 183.2C462.7 184.4 464.6 185.5 466.3 186.3C468 187.1 469.1 187.5 471 187.8C472.9 188.1 474.8 188.3 478 188C481.2 187.7 485.3 187.4 490 186C494.7 184.6 500.6 181.3 506 179.6C511.4 177.8 517 176.5 522.1 175.5C527.2 174.5 532.3 173.6 536.6 173.6C540.9 173.6 543.8 174.2 547.8 175.5C551.8 176.8 556.4 179.2 560.7 181.2C565 183.2 569.2 185.7 573.5 187.6C577.8 189.5 582.6 191.3 586.4 192.4C590.2 193.5 594.6 194 596.3 194.3" fill="none" stroke="#c8c8c8" stroke-width="1.7" stroke-linejoin="round" stroke-linecap="round"/>
<path d="M394.9 160.5C395.4 159.3 396.9 155.9 398 153.5C399.1 151.1 400.5 148.1 401.7 146C402.9 143.9 403.9 142.9 405 141.2C406.1 139.5 407.1 137.4 408 136C408.9 134.6 409.7 133.6 410.5 132.8C411.3 132.1 412.2 131.7 413 131.5C413.8 131.3 414.4 131.3 415.2 131.6C415.9 131.9 416.6 132.2 417.5 133.5C418.4 134.8 419.5 137.5 420.3 139.3C421.1 141.1 421.6 142.6 422.2 144.5C422.8 146.4 423.2 148 423.9 150.5C424.6 153 425.4 156.6 426.2 159.5C427 162.4 427.7 165.7 428.5 167.9C429.3 170.1 430.1 171.1 431 172.5C431.9 173.9 432.6 175 433.6 176.1C434.6 177.2 435.8 178.2 437 179C438.2 179.8 439.5 180.5 440.8 181.2C442.1 181.9 443.5 182.6 444.8 183.2C446.1 183.8 447.4 184.2 448.9 184.8C450.3 185.4 452 186 453.5 186.5C455 187 456 187.4 458.1 187.8C460.2 188.2 463.7 188.9 466.3 189C468.9 189.1 471.4 188.9 474 188.5C476.6 188.1 479.3 187.4 482 186.5C484.7 185.6 487.9 184 490 182.8C492.1 181.6 492.6 180.8 494.4 179.4C496.2 178 498.8 176.4 501 174.2C503.2 172 505.6 168.9 507.6 166.3C509.6 163.7 511 160.8 512.8 158.4C514.5 156 516.4 153.6 518.1 151.8C519.9 150.1 521.5 149.4 523.3 147.9C525 146.4 527.1 144.5 528.6 142.6C530.1 140.7 531.2 138.6 532.5 136.5C533.8 134.4 535.3 132.2 536.6 129.8C537.9 127.4 539.2 124 540.5 122C541.8 120 543.3 118.5 544.3 118.1C545.3 117.7 545.8 118.6 546.5 119.8C547.2 121 547.9 123.1 548.6 125.5C549.3 127.9 550.1 130.8 550.8 134C551.5 137.2 552.2 140.7 553 144.5C553.8 148.3 554.5 152.8 555.3 157C556.1 161.2 556.8 165.8 557.6 169.5C558.4 173.2 559.2 176.8 560 179.5C560.8 182.2 561.6 184.2 562.5 186C563.4 187.8 564.4 189.2 565.5 190.3C566.6 191.4 566.9 191.7 569 192.3C571.1 192.9 575.1 193.5 578 193.8C580.9 194.1 583.4 194.1 586.4 194.3C589.4 194.5 594.6 194.7 596.3 194.8" fill="none" stroke="#1010f0" stroke-width="1.7" stroke-linejoin="round" stroke-linecap="round"/>
<path d="M394.9 158.5C395.4 157.3 396.9 153.9 398 151.5C399.1 149.1 400.5 146.2 401.7 144C402.9 141.8 403.9 139.7 405 138C406.1 136.3 407.1 135 408 134C408.9 133 409.7 132.1 410.6 132.2C411.5 132.3 412.4 133.2 413.5 134.5C414.6 135.8 416.2 138.5 417.3 140.3C418.4 142.1 419.1 143.8 420 145.5C420.9 147.2 421.6 148.7 422.4 150.5C423.1 152.3 423.8 154.6 424.5 156.5C425.2 158.4 425.8 160.1 426.5 161.8C427.2 163.5 428.1 165.1 429 166.5C429.9 167.9 430.6 168.9 431.6 170C432.6 171.1 433.8 172.3 435 173.3C436.2 174.3 437.3 175.1 438.7 176.1C440.1 177.1 441.8 178.3 443.5 179.3C445.2 180.3 447.2 181.3 448.9 182.2C450.6 183.1 452 183.9 453.5 184.7C455 185.5 456 186.1 458.1 186.8C460.2 187.5 464 188.5 466.3 188.9C468.6 189.3 470.1 189.3 472 189.2C473.9 189.1 475 189.4 478 188.5C481 187.6 487.3 184.9 490 183.6C492.7 182.3 492.6 181.9 494.4 180.7C496.2 179.4 498.8 177.9 501 176.1C503.2 174.2 505.4 171.9 507.6 169.6C509.8 167.3 512.1 164.2 514.1 162.3C516.1 160.4 517.6 159.7 519.4 158.4C521.1 157.1 522.9 156.2 524.6 154.5C526.4 152.8 528.4 149.7 529.9 147.9C531.4 146.2 532.4 145 533.5 144C534.6 143 535.6 142.4 536.8 142C538 141.6 539.4 141.2 540.6 141.3C541.8 141.4 542.9 141.8 543.8 142.5C544.7 143.2 545.4 144.2 546.2 145.8C547 147.4 547.8 149.6 548.6 152C549.4 154.4 550.1 157.1 551 160.3C551.9 163.5 552.9 167.2 554 171C555.1 174.8 556.4 180 557.4 182.8C558.4 185.6 559.2 186.7 560 188C560.8 189.3 561.1 190 562.3 190.8C563.5 191.6 565.1 192.5 567 193C568.9 193.5 570.3 193.7 573.5 194C576.7 194.3 582.2 194.6 586 194.8C589.8 195 594.6 195.2 596.3 195.3" fill="none" stroke="#f01010" stroke-width="1.7" stroke-linejoin="round" stroke-linecap="round"/>
<path d="M394.9 157.6C395.4 156.4 396.9 152.9 398 150.5C399.1 148.1 400.5 145.3 401.7 143C402.9 140.7 403.9 138.3 405 136.5C406.1 134.7 407.1 133 408 132C408.9 131 409.2 130.3 410.1 130.6C411 130.8 412.3 132.2 413.5 133.5C414.7 134.8 416.1 136.6 417.3 138.3C418.5 140.1 419.5 142 420.5 144C421.5 146 422.4 148.2 423.4 150.5C424.4 152.8 425.6 155.7 426.5 157.7C427.4 159.7 428.1 160.9 429 162.3C429.9 163.7 430.6 164.7 431.6 165.9C432.6 167.1 433.8 168.5 435 169.7C436.2 170.9 437.3 171.8 438.7 173C440.1 174.2 441.8 175.6 443.5 176.8C445.2 178 447.2 179.2 448.9 180.2C450.6 181.2 452 182.2 453.5 183C455 183.8 456 184.4 458.1 185.3C460.2 186.2 464.3 187.8 466.3 188.4C468.3 189 468.4 188.8 470.3 188.8C472.2 188.8 474.7 188.8 478 188.2C481.3 187.6 487.3 186.2 490 185.2C492.7 184.2 492.6 183.2 494.4 182C496.2 180.8 498.8 179.6 501 178.1C503.2 176.6 505.4 174.6 507.6 172.8C509.8 171.1 511.9 169 514.1 167.6C516.3 166.2 518.5 165.4 520.7 164.3C522.9 163.2 525.1 162.4 527.3 161C529.5 159.6 532.2 157 533.8 155.8C535.4 154.6 536 154.3 537 153.9C538 153.5 539 153.2 540.1 153.3C541.2 153.5 542.5 153.9 543.5 154.8C544.5 155.7 545.2 157 546.2 158.7C547.2 160.4 548.4 162.6 549.5 165C550.6 167.4 551.5 170.3 552.6 173.1C553.7 175.8 554.9 179.1 556 181.5C557.1 183.9 558.1 186 559.1 187.6C560.1 189.2 560.9 190.1 562 191C563.1 191.9 563.3 192.7 565.5 193.2C567.7 193.7 571.5 193.8 575 194C578.5 194.2 582.9 194.1 586.4 194.3C589.9 194.5 594.6 195.1 596.3 195.3" fill="none" stroke="#000" stroke-width="1.7" stroke-linejoin="round" stroke-linecap="round"/>
<line x1="550.7" y1="103.8" x2="544.6" y2="116.6" stroke="#4a4aff" stroke-width="0.6"/>
<line x1="528.5" y1="121.4" x2="541.1" y2="140.2" stroke="#ff5050" stroke-width="0.6"/>
<line x1="523.7" y1="139.4" x2="541.4" y2="151.5" stroke="#333" stroke-width="0.6"/>
<text x="560.9" y="102" font-size="15.9" fill="#1010f0" text-anchor="middle" textLength="25" lengthAdjust="spacingAndGlyphs">683</text>
<text x="518.7" y="119" font-size="15.9" fill="#f01010" text-anchor="middle" textLength="25" lengthAdjust="spacingAndGlyphs">676</text>
<text x="509.2" y="138.6" font-size="15.9" fill="#000" text-anchor="middle" textLength="25" lengthAdjust="spacingAndGlyphs">674</text>
<text x="394.7" y="211.9" font-size="11.0" fill="#000" text-anchor="middle">350</text>
<text x="417.1" y="211.9" font-size="11.0" fill="#000" text-anchor="middle">400</text>
<text x="439.6" y="211.9" font-size="11.0" fill="#000" text-anchor="middle">450</text>
<text x="462" y="211.9" font-size="11.0" fill="#000" text-anchor="middle">500</text>
<text x="484.4" y="211.9" font-size="11.0" fill="#000" text-anchor="middle">550</text>
<text x="506.9" y="211.9" font-size="11.0" fill="#000" text-anchor="middle">600</text>
<text x="529.3" y="211.9" font-size="11.0" fill="#000" text-anchor="middle">650</text>
<text x="551.7" y="211.9" font-size="11.0" fill="#000" text-anchor="middle">700</text>
<text x="574.2" y="211.9" font-size="11.0" fill="#000" text-anchor="middle">750</text>
<text x="596.6" y="211.9" font-size="11.0" fill="#000" text-anchor="middle">800</text>
<text x="391.5" y="202.1" font-size="11.0" fill="#000" text-anchor="end">0.0</text>
<text x="391.5" y="172.5" font-size="11.0" fill="#000" text-anchor="end">0.2</text>
<text x="391.5" y="142.9" font-size="11.0" fill="#000" text-anchor="end">0.4</text>
<text x="391.5" y="113.3" font-size="11.0" fill="#000" text-anchor="end">0.6</text>
<text x="391.5" y="83.7" font-size="11.0" fill="#000" text-anchor="end">0.8</text>
<text x="391.5" y="54.1" font-size="11.0" fill="#000" text-anchor="end">1.0</text>
<text x="495.6" y="228.6" font-size="13.9" fill="#000" text-anchor="middle">Wavelength (nm)</text>
<text x="368.9" y="113.9" font-size="13.3" fill="#000" text-anchor="middle" transform="rotate(-90 368.9 113.9)">EAS</text>
<rect x="562.5" y="25.2" width="60.2" height="49.2" fill="#fff" stroke="#c8c8c8" stroke-width="0.9"/>
<text x="563.6" y="35.3" font-size="10" fill="#000">(</text>
<line x1="567.5" y1="31.8" x2="589.8" y2="31.8" stroke="#c8c8c8" stroke-width="1.7"/>
<text x="592.3" y="35.3" font-size="10" fill="#000">BV)</text>
<line x1="563.3" y1="44.2" x2="586.9" y2="44.2" stroke="#000" stroke-width="1.7"/>
<text x="589.4" y="47.8" font-size="10" fill="#000">2.1 min</text>
<line x1="563.3" y1="56.4" x2="586.9" y2="56.4" stroke="#f01010" stroke-width="1.7"/>
<text x="589.4" y="60" font-size="10" fill="#000">18 min</text>
<line x1="563.3" y1="68.6" x2="586.9" y2="68.6" stroke="#1010f0" stroke-width="1.7"/>
<text x="589.4" y="72.2" font-size="10" fill="#000">Inf.</text>
<text x="27.2" y="263.4" font-size="18.5" fill="#000" font-weight="bold">c</text>
<line x1="55.8" y1="463.3" x2="55.8" y2="459.7" stroke="#3a3a3a" stroke-width="1.1"/>
<line x1="55.8" y1="280.7" x2="55.8" y2="284.3" stroke="#3a3a3a" stroke-width="1.1"/>
<line x1="111.5" y1="463.3" x2="111.5" y2="459.7" stroke="#3a3a3a" stroke-width="1.1"/>
<line x1="111.5" y1="280.7" x2="111.5" y2="284.3" stroke="#3a3a3a" stroke-width="1.1"/>
<line x1="167.1" y1="463.3" x2="167.1" y2="459.7" stroke="#3a3a3a" stroke-width="1.1"/>
<line x1="167.1" y1="280.7" x2="167.1" y2="284.3" stroke="#3a3a3a" stroke-width="1.1"/>
<line x1="222.8" y1="463.3" x2="222.8" y2="459.7" stroke="#3a3a3a" stroke-width="1.1"/>
<line x1="222.8" y1="280.7" x2="222.8" y2="284.3" stroke="#3a3a3a" stroke-width="1.1"/>
<line x1="44.7" y1="463.3" x2="44.7" y2="461.3" stroke="#3a3a3a" stroke-width="1.1"/>
<line x1="44.7" y1="280.7" x2="44.7" y2="282.7" stroke="#3a3a3a" stroke-width="1.1"/>
<line x1="66.9" y1="463.3" x2="66.9" y2="461.3" stroke="#3a3a3a" stroke-width="1.1"/>
<line x1="66.9" y1="280.7" x2="66.9" y2="282.7" stroke="#3a3a3a" stroke-width="1.1"/>
<line x1="78.1" y1="463.3" x2="78.1" y2="461.3" stroke="#3a3a3a" stroke-width="1.1"/>
<line x1="78.1" y1="280.7" x2="78.1" y2="282.7" stroke="#3a3a3a" stroke-width="1.1"/>
<line x1="89.2" y1="463.3" x2="89.2" y2="461.3" stroke="#3a3a3a" stroke-width="1.1"/>
<line x1="89.2" y1="280.7" x2="89.2" y2="282.7" stroke="#3a3a3a" stroke-width="1.1"/>
<line x1="100.3" y1="463.3" x2="100.3" y2="461.3" stroke="#3a3a3a" stroke-width="1.1"/>
<line x1="100.3" y1="280.7" x2="100.3" y2="282.7" stroke="#3a3a3a" stroke-width="1.1"/>
<line x1="122.6" y1="463.3" x2="122.6" y2="461.3" stroke="#3a3a3a" stroke-width="1.1"/>
<line x1="122.6" y1="280.7" x2="122.6" y2="282.7" stroke="#3a3a3a" stroke-width="1.1"/>
<line x1="133.7" y1="463.3" x2="133.7" y2="461.3" stroke="#3a3a3a" stroke-width="1.1"/>
<line x1="133.7" y1="280.7" x2="133.7" y2="282.7" stroke="#3a3a3a" stroke-width="1.1"/>
<line x1="144.9" y1="463.3" x2="144.9" y2="461.3" stroke="#3a3a3a" stroke-width="1.1"/>
<line x1="144.9" y1="280.7" x2="144.9" y2="282.7" stroke="#3a3a3a" stroke-width="1.1"/>
<line x1="156" y1="463.3" x2="156" y2="461.3" stroke="#3a3a3a" stroke-width="1.1"/>
<line x1="156" y1="280.7" x2="156" y2="282.7" stroke="#3a3a3a" stroke-width="1.1"/>
<line x1="178.3" y1="463.3" x2="178.3" y2="461.3" stroke="#3a3a3a" stroke-width="1.1"/>
<line x1="178.3" y1="280.7" x2="178.3" y2="282.7" stroke="#3a3a3a" stroke-width="1.1"/>
<line x1="189.4" y1="463.3" x2="189.4" y2="461.3" stroke="#3a3a3a" stroke-width="1.1"/>
<line x1="189.4" y1="280.7" x2="189.4" y2="282.7" stroke="#3a3a3a" stroke-width="1.1"/>
<line x1="200.5" y1="463.3" x2="200.5" y2="461.3" stroke="#3a3a3a" stroke-width="1.1"/>
<line x1="200.5" y1="280.7" x2="200.5" y2="282.7" stroke="#3a3a3a" stroke-width="1.1"/>
<line x1="211.7" y1="463.3" x2="211.7" y2="461.3" stroke="#3a3a3a" stroke-width="1.1"/>
<line x1="211.7" y1="280.7" x2="211.7" y2="282.7" stroke="#3a3a3a" stroke-width="1.1"/>
<line x1="32.5" y1="455.1" x2="36.1" y2="455.1" stroke="#3a3a3a" stroke-width="1.1"/>
<line x1="223.2" y1="455.1" x2="219.6" y2="455.1" stroke="#3a3a3a" stroke-width="1.1"/>
<line x1="32.5" y1="416.5" x2="36.1" y2="416.5" stroke="#3a3a3a" stroke-width="1.1"/>
<line x1="223.2" y1="416.5" x2="219.6" y2="416.5" stroke="#3a3a3a" stroke-width="1.1"/>
<line x1="32.5" y1="377.9" x2="36.1" y2="377.9" stroke="#3a3a3a" stroke-width="1.1"/>
<line x1="223.2" y1="377.9" x2="219.6" y2="377.9" stroke="#3a3a3a" stroke-width="1.1"/>
<line x1="32.5" y1="339.3" x2="36.1" y2="339.3" stroke="#3a3a3a" stroke-width="1.1"/>
<line x1="223.2" y1="339.3" x2="219.6" y2="339.3" stroke="#3a3a3a" stroke-width="1.1"/>
<line x1="32.5" y1="300.7" x2="36.1" y2="300.7" stroke="#3a3a3a" stroke-width="1.1"/>
<line x1="223.2" y1="300.7" x2="219.6" y2="300.7" stroke="#3a3a3a" stroke-width="1.1"/>
<line x1="32.5" y1="435.8" x2="34.5" y2="435.8" stroke="#3a3a3a" stroke-width="1.1"/>
<line x1="223.2" y1="435.8" x2="221.2" y2="435.8" stroke="#3a3a3a" stroke-width="1.1"/>
<line x1="32.5" y1="397.2" x2="34.5" y2="397.2" stroke="#3a3a3a" stroke-width="1.1"/>
<line x1="223.2" y1="397.2" x2="221.2" y2="397.2" stroke="#3a3a3a" stroke-width="1.1"/>
<line x1="32.5" y1="358.6" x2="34.5" y2="358.6" stroke="#3a3a3a" stroke-width="1.1"/>
<line x1="223.2" y1="358.6" x2="221.2" y2="358.6" stroke="#3a3a3a" stroke-width="1.1"/>
<line x1="32.5" y1="320" x2="34.5" y2="320" stroke="#3a3a3a" stroke-width="1.1"/>
<line x1="223.2" y1="320" x2="221.2" y2="320" stroke="#3a3a3a" stroke-width="1.1"/>
<rect x="32.5" y="280.7" width="190.7" height="182.6" fill="none" stroke="#3a3a3a" stroke-width="1.1"/>
<path d="M32.8 451.9C33.7 451.3 36.1 449.6 38 448.5C39.9 447.4 42.3 446.6 44.1 445.5C45.9 444.4 47.4 442.8 49 442C50.6 441.2 52.2 440.7 53.7 440.7C55.2 440.7 56.6 441.5 58 442C59.4 442.5 60.3 442.9 62 443.5C63.7 444.1 66.1 444.9 68.1 445.5C70.1 446.1 71.8 446.5 74 447C76.2 447.5 79 448.2 81 448.7C83 449.2 84.1 449.5 86 450C87.9 450.5 90.4 451.4 92.2 451.9C94 452.4 95.4 452.8 97 453.2C98.6 453.6 100.4 454.1 101.9 454.3C103.4 454.5 104.7 454.5 106 454.5C107.3 454.5 108 454.3 110 454.3C112 454.3 115.9 454.4 117.9 454.3C119.9 454.2 120.4 453.9 122 453.5C123.6 453.1 125.8 452.5 127.6 451.9C129.4 451.3 131.6 450.4 133 450C134.4 449.6 135 449.7 136.2 449.8C137.4 449.9 138.5 450.2 140 450.5C141.5 450.8 143.3 451.1 145 451.5C146.7 451.9 148.1 452.4 150 452.8C151.9 453.2 154.3 453.6 156.3 453.6C158.3 453.6 160.1 453.2 162 453C163.9 452.8 166 452.3 168 452.3C170 452.3 172 452.8 174 453C176 453.2 178 453.3 180 453.5C182 453.7 184 453.9 186 454C188 454.1 190.2 454.3 192 454.2C193.8 454.1 195.5 453.9 197 453.5C198.5 453.1 199.7 453.2 201 452C202.3 450.8 203.6 447.8 205 446C206.4 444.2 208.3 441.3 209.6 441C210.9 440.7 211.8 442.9 213 444C214.2 445.1 215.4 446.9 216.6 447.5C217.8 448.1 218.9 447.8 220 447.5C221.1 447.2 222.5 446.2 223 446" fill="none" stroke="#c8c8c8" stroke-width="1.9" stroke-linejoin="round" stroke-linecap="round"/>
<path d="M32.8 439.9C33.3 439.7 34.8 438.9 36 438.5C37.2 438.1 38.7 437.8 40 437.5C41.3 437.2 42.8 437.1 44 437C45.2 436.9 46.3 437 47.3 436.6C48.3 436.2 49.2 435.4 50 434.5C50.8 433.6 51.4 432.8 52.1 431C52.9 429.2 53.7 426.1 54.5 424C55.3 421.9 56.1 418.7 56.9 418.2C57.6 417.7 58.4 419.5 59 421C59.6 422.5 60.2 425.1 60.8 427C61.4 428.9 61.8 430.6 62.5 432.6C63.2 434.6 64.1 437.1 65 439C65.9 440.9 67.3 442.9 68.1 443.9C68.9 444.9 69.3 444.9 70 445C70.7 445.1 71.5 445.2 72.2 444.7C72.9 444.2 73.6 442.7 74.3 442C75 441.3 75.5 440.5 76.2 440.7C76.9 440.9 77.7 442.2 78.5 443C79.3 443.8 80.2 444.8 81 445.5C81.8 446.2 82.3 447 83 447.5C83.7 448 84.2 449.1 85 448.7C85.8 448.3 87.1 446.3 88 445C88.9 443.7 89.6 442 90.3 441C91 440 91.5 438.7 92.2 439C92.9 439.3 93.8 441.6 94.5 443C95.2 444.4 95.8 446.3 96.5 447.5C97.2 448.7 98 449.6 98.7 450.3C99.5 451.1 100.2 451.6 101 452C101.8 452.4 102.5 452.9 103.5 452.7C104.5 452.5 105.7 451.7 107 451C108.3 450.3 110.4 450 111.5 448.7C112.6 447.4 112.9 444.9 113.5 443C114.1 441.1 114.5 439 115 437C115.5 435 115.8 433.2 116.3 431C116.8 428.8 117.4 426 118 424C118.6 422 119.2 419.9 119.8 419C120.4 418.1 121 418.6 121.6 418.8C122.2 419.1 122.8 419.8 123.5 420.5C124.2 421.2 124.8 422.4 125.5 423C126.2 423.6 126.5 423.8 127.4 424.1C128.3 424.4 130 424.4 130.9 425C131.8 425.6 132.3 426.8 133 428C133.7 429.2 134 430 135 432C136 434 137.7 438 138.9 440.2C140.1 442.4 140.8 443.4 142 445C143.2 446.6 144.7 448.6 146 450C147.3 451.4 148.8 453.4 150.1 453.6C151.4 453.9 152.9 452.1 154 451.5C155.1 450.9 155.7 450.3 156.5 450C157.3 449.7 157.8 449.6 158.6 449.8C159.3 450 160.1 450.6 161 451C161.9 451.4 163 452.4 164 452.5C165 452.6 166 451.9 167 451.5C168 451.1 169 450.8 170.2 450.3C171.4 449.8 172.7 449 174 448.3C175.3 447.6 176.7 445.9 177.9 445.9C179.1 445.9 179.7 447.5 181 448.5C182.3 449.5 184.1 451.6 185.6 452.1C187.1 452.6 188.4 451.7 190 451.5C191.6 451.3 193.3 451.3 195 451C196.7 450.7 198.7 450.5 200 449.5C201.3 448.5 202 446.5 203 445C204 443.5 204.9 441.9 206 440.5C207.1 439.1 208.6 436.9 209.6 436.6C210.6 436.4 211.3 438.1 212 439C212.7 439.9 213.2 441 214 442C214.8 443 215.8 444.7 216.6 445.1C217.4 445.5 218.3 444.7 219 444.5C219.7 444.3 220.3 444 221 444C221.7 444 222.7 444.3 223 444.4" fill="none" stroke="#000" stroke-width="1.6" stroke-linejoin="round" stroke-linecap="round"/>
<path d="M32.8 435.8C33.2 434.5 34.5 431 35.5 428C36.5 425 37.5 421.2 38.5 418C39.5 414.8 40.5 411.2 41.5 409C42.5 406.8 43.6 405.2 44.5 405C45.4 404.8 46.2 406.5 47 408C47.8 409.5 48.6 412.3 49.5 414C50.4 415.7 51.3 418.4 52.1 418.2C52.9 418 53.7 414.5 54.5 413C55.3 411.5 56.1 409.6 56.9 409.3C57.7 409 58.6 410.2 59.5 411C60.4 411.8 61.2 413.2 62 414C62.8 414.8 63.3 414.5 64.1 415.8C64.8 417.1 65.8 419.8 66.5 422C67.2 424.2 67.8 427 68.5 429C69.2 431 69.7 432.7 70.6 434.2C71.5 435.7 72.8 436.9 74 438C75.2 439.1 76.6 439.7 77.8 440.7C79 441.7 79.9 442.8 81 444C82.1 445.2 83.2 448.1 84.2 447.9C85.2 447.7 86.1 444.7 87 443C87.9 441.3 88.8 438.8 89.5 437.5C90.2 436.2 90.7 434.9 91.4 435C92.1 435.1 92.7 436.3 93.5 438C94.3 439.7 94.9 442.6 96 445C97.1 447.4 99 452.5 100.3 452.7C101.5 452.9 102.4 448 103.5 446C104.6 444 105.8 441.9 106.7 440.7C107.6 439.4 108.2 439.1 109 438.5C109.8 437.9 110.8 438.8 111.5 437.4C112.2 436 112.9 434.6 113.5 430C114.1 425.4 114.5 417.5 115 410C115.5 402.5 115.8 393.4 116.3 385C116.8 376.6 117.2 365.8 117.7 359.5C118.2 353.2 118.8 349.9 119.3 347C119.8 344.1 120.4 341.9 120.9 341.9C121.4 341.9 121.9 344.1 122.4 347C122.9 349.9 123.4 354 123.9 359.5C124.4 365 125 372.6 125.6 380C126.2 387.4 126.8 397.7 127.4 403.7C128 409.7 128.4 412.8 129 416C129.6 419.2 130.1 420.9 130.9 423.2C131.7 425.5 132.7 427.4 134 430C135.3 432.6 137.4 436.2 138.9 438.5C140.4 440.8 141.8 442.2 143 444C144.2 445.8 144.8 447.8 146 449C147.2 450.2 148.9 451.3 150.1 451.3C151.3 451.3 152 450 153 449C154 448 154.9 446.4 156 445.5C157.1 444.6 158.4 443.4 159.4 443.6C160.4 443.9 161.1 446 162 447C162.9 448 163.9 449.6 164.8 449.8C165.7 450.1 166.6 448.8 167.5 448.5C168.4 448.2 169.3 448.6 170.2 447.8C171.1 447.1 172.1 445.3 173 444C173.9 442.7 174.7 441 175.5 440C176.3 439 177.1 438 177.9 438.2C178.7 438.4 179.7 439.9 180.5 441C181.3 442.1 182.2 443.9 183 445C183.8 446.1 184.4 446.8 185.6 447.5C186.8 448.2 188.4 448.8 190 449C191.6 449.2 193.4 449 195 449C196.6 449 198.4 450.5 199.6 449C200.8 447.5 201.2 444.4 202 440C202.8 435.6 203.4 428.4 204.2 422.7C204.9 417 205.7 409.7 206.5 406C207.3 402.3 208.2 400 209.1 400.3C210 400.6 211 404.4 211.7 408C212.4 411.6 212.9 418.3 213.5 422C214.1 425.7 214.5 427.8 215 430C215.5 432.2 215.9 433.9 216.6 435.1C217.3 436.4 218.3 437.2 219 437.5C219.7 437.8 220.3 437.1 221 437C221.7 436.9 222.7 436.7 223 436.6" fill="none" stroke="#f01010" stroke-width="1.6" stroke-linejoin="round" stroke-linecap="round"/>
<path d="M32.8 432.6C33.2 430.7 34.2 424.8 35 421C35.8 417.2 36.7 414.1 37.6 410.1C38.5 406.1 39.6 400.7 40.5 397C41.4 393.3 42.2 390.3 43 388C43.8 385.7 44.5 383.5 45.3 383.2C46 382.9 46.8 383.5 47.5 386C48.2 388.5 49 393.4 49.8 398C50.6 402.6 51.3 408.4 52.1 413.4C52.9 418.4 53.8 424.1 54.5 428C55.2 431.9 56 434.8 56.5 436.5C57 438.2 57.2 438.9 57.7 438.3C58.2 437.7 58.8 435.2 59.3 433C59.8 430.8 60.1 427.5 60.5 425C60.9 422.5 61.2 421.2 61.7 418.2C62.2 415.2 62.8 409.6 63.5 407C64.2 404.4 65 402.2 65.7 402.4C66.4 402.6 67.1 404.6 67.8 408C68.5 411.4 69.1 419 69.8 423C70.5 427 71.2 429.3 72 432C72.8 434.7 73.7 437.1 74.6 439C75.5 440.9 76.4 442.3 77.5 443.5C78.6 444.7 79.9 446.2 81 446.3C82.1 446.4 83.1 446.1 84 444C84.9 441.9 85.7 437.2 86.5 434C87.3 430.8 88.2 425.6 89 424.6C89.8 423.6 90.7 425.9 91.5 428C92.3 430.1 93 434.2 93.8 437.4C94.6 440.6 95.5 444.3 96.5 447C97.5 449.7 98.9 453.5 99.9 453.5C100.9 453.5 101.7 449.8 102.5 447C103.3 444.2 103.8 439.9 104.5 437C105.2 434.1 106 431.7 106.7 429.4C107.5 427.1 108.2 424.6 109 423C109.8 421.4 110.8 421.3 111.5 419.8C112.2 418.3 112.6 416.7 113 414C113.4 411.3 113.7 408.5 114.1 403.7C114.5 398.9 114.8 392.4 115.3 385C115.8 377.6 116.3 368.7 116.8 359.5C117.3 350.3 117.8 337.5 118.5 330C119.2 322.5 120.2 315.3 120.9 314.5C121.6 313.7 122.2 317.5 122.8 325C123.4 332.5 124.1 349.5 124.7 359.5C125.3 369.5 125.9 377.6 126.5 385C127.1 392.4 127.8 398.9 128.3 403.7C128.8 408.5 129.2 410.8 129.6 414C130 417.2 130.2 420.4 130.9 423.2C131.6 426 132.7 428.2 134 431C135.3 433.8 137.4 437.8 138.9 440.2C140.4 442.6 141.8 444 143 445.5C144.2 447 144.8 448 146 449C147.2 450 148.8 451.3 150.1 451.3C151.4 451.3 152.6 449.8 154 449C155.4 448.2 157.4 446.6 158.6 446.7C159.8 446.8 160.1 448.9 161 449.5C161.9 450.1 163 450.7 164 450.6C165 450.5 166 449.5 167 449C168 448.5 169 448 170.2 447.5C171.4 447 172.7 446.5 174 446C175.3 445.5 176.7 444.2 177.9 444.4C179.1 444.6 180 446.2 181 447C182 447.8 183.1 448.2 184.1 449C185.1 449.8 186 450.7 187 451.5C188 452.3 189.4 453.6 190.3 453.6C191.2 453.6 191.7 452.1 192.5 451.5C193.3 450.9 194.1 450.3 194.9 449.8C195.7 449.3 196.6 448.9 197.5 448.5C198.4 448.1 199.5 449.8 200.3 447.5C201.1 445.2 201.7 444.3 202.3 435C203 425.7 203.5 403.5 204.2 391.8C204.9 380.1 205.7 370.9 206.5 365C207.3 359.1 208.2 356 209.1 356.3C210 356.6 211 360.6 211.7 367C212.4 373.4 212.9 386.2 213.5 395C214.1 403.8 214.5 414.4 215 420C215.5 425.6 215.9 427.1 216.6 428.9C217.3 430.6 218.3 429.9 219 430.5C219.7 431.1 220.3 431.5 221 432.5C221.7 433.5 222.7 435.9 223 436.6" fill="none" stroke="#1010f0" stroke-width="1.6" stroke-linejoin="round" stroke-linecap="round"/>
<line x1="45.4" y1="350.6" x2="45.4" y2="382.1" stroke="#1010f0" stroke-width="0.7"/>
<line x1="72.6" y1="382.8" x2="67" y2="399.7" stroke="#1010f0" stroke-width="0.7"/>
<polyline points="120.5,363 120.5,305.9 130.4,298" fill="none" stroke="#ff5050" stroke-width="0.7"/>
<line x1="209.1" y1="342.4" x2="209.1" y2="399.6" stroke="#ff6060" stroke-width="0.7"/>
<text x="48.6" y="348" font-size="15.9" fill="#1010f0" text-anchor="middle" textLength="25" lengthAdjust="spacingAndGlyphs">683</text>
<text x="79.4" y="379.5" font-size="15.9" fill="#1010f0" text-anchor="middle" textLength="25" lengthAdjust="spacingAndGlyphs">719</text>
<text x="143.3" y="301.2" font-size="15.9" fill="#f01010" text-anchor="middle" textLength="25" lengthAdjust="spacingAndGlyphs">818</text>
<text x="209.4" y="340.2" font-size="15.9" fill="#f01010" text-anchor="middle" textLength="25" lengthAdjust="spacingAndGlyphs">975</text>
<text x="55.8" y="478.3" font-size="13.7" fill="#000" text-anchor="middle">700</text>
<text x="111.5" y="478.3" font-size="13.7" fill="#000" text-anchor="middle">800</text>
<text x="167.1" y="478.3" font-size="13.7" fill="#000" text-anchor="middle">900</text>
<text x="222.8" y="478.3" font-size="13.7" fill="#000" text-anchor="middle">1000</text>
<text x="28.7" y="459.8" font-size="13.7" fill="#000" text-anchor="end">0</text>
<text x="28.7" y="421.2" font-size="13.7" fill="#000" text-anchor="end">1</text>
<text x="28.7" y="382.6" font-size="13.7" fill="#000" text-anchor="end">2</text>
<text x="28.7" y="344" font-size="13.7" fill="#000" text-anchor="end">3</text>
<text x="28.7" y="305.4" font-size="13.7" fill="#000" text-anchor="end">4</text>
<text x="127.5" y="499.7" font-size="15.6" text-anchor="middle">Wavenumber (cm<tspan font-size="10" dy="-6">-1</tspan><tspan dy="6">)</tspan></text>
<text x="10.7" y="364.7" font-size="13.8" fill="#000" text-anchor="middle" transform="rotate(-90 10.7 364.7)">EAS (mOD)</text>
<text x="245.6" y="263.9" font-size="18.5" fill="#000" font-weight="bold">d</text>
<line x1="284.2" y1="462" x2="284.2" y2="458.4" stroke="#3a3a3a" stroke-width="1.1"/>
<line x1="284.2" y1="279.5" x2="284.2" y2="283.1" stroke="#3a3a3a" stroke-width="1.1"/>
<line x1="338.4" y1="462" x2="338.4" y2="458.4" stroke="#3a3a3a" stroke-width="1.1"/>
<line x1="338.4" y1="279.5" x2="338.4" y2="283.1" stroke="#3a3a3a" stroke-width="1.1"/>
<line x1="392.5" y1="462" x2="392.5" y2="458.4" stroke="#3a3a3a" stroke-width="1.1"/>
<line x1="392.5" y1="279.5" x2="392.5" y2="283.1" stroke="#3a3a3a" stroke-width="1.1"/>
<line x1="446.7" y1="462" x2="446.7" y2="458.4" stroke="#3a3a3a" stroke-width="1.1"/>
<line x1="446.7" y1="279.5" x2="446.7" y2="283.1" stroke="#3a3a3a" stroke-width="1.1"/>
<line x1="262.5" y1="462" x2="262.5" y2="460" stroke="#3a3a3a" stroke-width="1.1"/>
<line x1="262.5" y1="279.5" x2="262.5" y2="281.5" stroke="#3a3a3a" stroke-width="1.1"/>
<line x1="273.4" y1="462" x2="273.4" y2="460" stroke="#3a3a3a" stroke-width="1.1"/>
<line x1="273.4" y1="279.5" x2="273.4" y2="281.5" stroke="#3a3a3a" stroke-width="1.1"/>
<line x1="295" y1="462" x2="295" y2="460" stroke="#3a3a3a" stroke-width="1.1"/>
<line x1="295" y1="279.5" x2="295" y2="281.5" stroke="#3a3a3a" stroke-width="1.1"/>
<line x1="305.9" y1="462" x2="305.9" y2="460" stroke="#3a3a3a" stroke-width="1.1"/>
<line x1="305.9" y1="279.5" x2="305.9" y2="281.5" stroke="#3a3a3a" stroke-width="1.1"/>
<line x1="316.7" y1="462" x2="316.7" y2="460" stroke="#3a3a3a" stroke-width="1.1"/>
<line x1="316.7" y1="279.5" x2="316.7" y2="281.5" stroke="#3a3a3a" stroke-width="1.1"/>
<line x1="327.5" y1="462" x2="327.5" y2="460" stroke="#3a3a3a" stroke-width="1.1"/>
<line x1="327.5" y1="279.5" x2="327.5" y2="281.5" stroke="#3a3a3a" stroke-width="1.1"/>
<line x1="349.2" y1="462" x2="349.2" y2="460" stroke="#3a3a3a" stroke-width="1.1"/>
<line x1="349.2" y1="279.5" x2="349.2" y2="281.5" stroke="#3a3a3a" stroke-width="1.1"/>
<line x1="360" y1="462" x2="360" y2="460" stroke="#3a3a3a" stroke-width="1.1"/>
<line x1="360" y1="279.5" x2="360" y2="281.5" stroke="#3a3a3a" stroke-width="1.1"/>
<line x1="370.9" y1="462" x2="370.9" y2="460" stroke="#3a3a3a" stroke-width="1.1"/>
<line x1="370.9" y1="279.5" x2="370.9" y2="281.5" stroke="#3a3a3a" stroke-width="1.1"/>
<line x1="381.7" y1="462" x2="381.7" y2="460" stroke="#3a3a3a" stroke-width="1.1"/>
<line x1="381.7" y1="279.5" x2="381.7" y2="281.5" stroke="#3a3a3a" stroke-width="1.1"/>
<line x1="403.4" y1="462" x2="403.4" y2="460" stroke="#3a3a3a" stroke-width="1.1"/>
<line x1="403.4" y1="279.5" x2="403.4" y2="281.5" stroke="#3a3a3a" stroke-width="1.1"/>
<line x1="414.2" y1="462" x2="414.2" y2="460" stroke="#3a3a3a" stroke-width="1.1"/>
<line x1="414.2" y1="279.5" x2="414.2" y2="281.5" stroke="#3a3a3a" stroke-width="1.1"/>
<line x1="425" y1="462" x2="425" y2="460" stroke="#3a3a3a" stroke-width="1.1"/>
<line x1="425" y1="279.5" x2="425" y2="281.5" stroke="#3a3a3a" stroke-width="1.1"/>
<line x1="435.9" y1="462" x2="435.9" y2="460" stroke="#3a3a3a" stroke-width="1.1"/>
<line x1="435.9" y1="279.5" x2="435.9" y2="281.5" stroke="#3a3a3a" stroke-width="1.1"/>
<line x1="256.8" y1="456.1" x2="260.4" y2="456.1" stroke="#3a3a3a" stroke-width="1.1"/>
<line x1="447.3" y1="456.1" x2="443.7" y2="456.1" stroke="#3a3a3a" stroke-width="1.1"/>
<line x1="256.8" y1="426.5" x2="260.4" y2="426.5" stroke="#3a3a3a" stroke-width="1.1"/>
<line x1="447.3" y1="426.5" x2="443.7" y2="426.5" stroke="#3a3a3a" stroke-width="1.1"/>
<line x1="256.8" y1="396.9" x2="260.4" y2="396.9" stroke="#3a3a3a" stroke-width="1.1"/>
<line x1="447.3" y1="396.9" x2="443.7" y2="396.9" stroke="#3a3a3a" stroke-width="1.1"/>
<line x1="256.8" y1="367.3" x2="260.4" y2="367.3" stroke="#3a3a3a" stroke-width="1.1"/>
<line x1="447.3" y1="367.3" x2="443.7" y2="367.3" stroke="#3a3a3a" stroke-width="1.1"/>
<line x1="256.8" y1="337.7" x2="260.4" y2="337.7" stroke="#3a3a3a" stroke-width="1.1"/>
<line x1="447.3" y1="337.7" x2="443.7" y2="337.7" stroke="#3a3a3a" stroke-width="1.1"/>
<line x1="256.8" y1="308.1" x2="260.4" y2="308.1" stroke="#3a3a3a" stroke-width="1.1"/>
<line x1="447.3" y1="308.1" x2="443.7" y2="308.1" stroke="#3a3a3a" stroke-width="1.1"/>
<line x1="256.8" y1="278.5" x2="260.4" y2="278.5" stroke="#3a3a3a" stroke-width="1.1"/>
<line x1="447.3" y1="278.5" x2="443.7" y2="278.5" stroke="#3a3a3a" stroke-width="1.1"/>
<line x1="256.8" y1="441.3" x2="258.8" y2="441.3" stroke="#3a3a3a" stroke-width="1.1"/>
<line x1="447.3" y1="441.3" x2="445.3" y2="441.3" stroke="#3a3a3a" stroke-width="1.1"/>
<line x1="256.8" y1="411.7" x2="258.8" y2="411.7" stroke="#3a3a3a" stroke-width="1.1"/>
<line x1="447.3" y1="411.7" x2="445.3" y2="411.7" stroke="#3a3a3a" stroke-width="1.1"/>
<line x1="256.8" y1="382.1" x2="258.8" y2="382.1" stroke="#3a3a3a" stroke-width="1.1"/>
<line x1="447.3" y1="382.1" x2="445.3" y2="382.1" stroke="#3a3a3a" stroke-width="1.1"/>
<line x1="256.8" y1="352.5" x2="258.8" y2="352.5" stroke="#3a3a3a" stroke-width="1.1"/>
<line x1="447.3" y1="352.5" x2="445.3" y2="352.5" stroke="#3a3a3a" stroke-width="1.1"/>
<line x1="256.8" y1="322.9" x2="258.8" y2="322.9" stroke="#3a3a3a" stroke-width="1.1"/>
<line x1="447.3" y1="322.9" x2="445.3" y2="322.9" stroke="#3a3a3a" stroke-width="1.1"/>
<line x1="256.8" y1="293.3" x2="258.8" y2="293.3" stroke="#3a3a3a" stroke-width="1.1"/>
<line x1="447.3" y1="293.3" x2="445.3" y2="293.3" stroke="#3a3a3a" stroke-width="1.1"/>
<rect x="256.8" y="279.5" width="190.5" height="182.5" fill="none" stroke="#3a3a3a" stroke-width="1.1"/>
<path d="M257.1 448.8C258.1 449.1 260.5 449.9 263 450.5C265.5 451.1 268.7 451.8 272 452.3C275.3 452.8 279.3 453.1 283 453.5C286.7 453.9 290 454.7 294 455C298 455.3 302.7 455.4 307 455.5C311.3 455.6 317 455.5 320 455.4C323 455.3 323 454.9 325 454.9C327 454.9 329.8 455.1 332 455.3C334.2 455.5 336.2 455.7 338 455.8C339.8 455.9 341.4 456 343 455.8C344.6 455.6 346.5 455.6 347.9 454.8C349.3 454 350.2 452.6 351.5 451C352.8 449.4 354.6 447.1 355.9 444.9C357.1 442.7 357.9 440.1 359 438C360.1 435.9 361.6 433.5 362.8 432C364 430.5 364.8 429.7 366 429C367.2 428.3 368.7 427.9 369.8 428C370.9 428.1 371.8 428.7 372.8 429.5C373.8 430.3 374.8 431.6 375.7 433C376.6 434.4 377.5 436.4 378.5 438C379.5 439.6 380.7 441.6 381.7 442.9C382.7 444.1 383.5 444.8 384.5 445.5C385.5 446.2 386.7 446.7 387.7 446.9C388.7 447.1 389.5 446.7 390.5 446.5C391.5 446.3 392.6 445.8 393.6 445.9C394.6 446 395.5 446.5 396.5 447C397.5 447.5 398.4 448.3 399.6 448.9C400.9 449.5 402.4 450 404 450.5C405.6 451 407.8 451.5 409.5 451.8C411.2 452.1 412.4 452.3 414 452.5C415.6 452.7 417.7 452.8 419.4 452.8C421.1 452.8 422.3 452.5 424 452.5C425.7 452.5 427.7 452.6 429.4 452.8C431.1 453 432.4 453.2 434 453.5C435.6 453.8 437.8 454.6 439.3 454.8C440.8 455.1 441.7 455 443 455C444.3 455 446.3 454.8 447 454.8" fill="none" stroke="#c8c8c8" stroke-width="1.9" stroke-linejoin="round" stroke-linecap="round"/>
<path d="M257.1 439.8C257.4 440.1 258.4 440.8 259 441.5C259.6 442.2 260.2 442.9 261 444C261.8 445.1 262.5 446.8 264 448C265.5 449.2 268.1 450.6 269.9 451C271.7 451.4 273.3 450.8 275 450.5C276.7 450.2 278.6 449.5 280 449C281.4 448.5 282.1 447.7 283.1 447.7C284.1 447.7 285 448.4 286 449C287 449.6 287.6 450.3 289 451C290.4 451.7 292.4 453 294.2 453.2C296 453.4 298 452.5 300 452.3C302 452.1 304 452.5 306 452.2C308 451.9 310.3 450.9 312 450.5C313.7 450.1 314.9 449.9 316.2 449.5C317.4 449.1 318.4 448.5 319.5 448.2C320.6 447.9 321.7 447.6 322.8 447.7C323.9 447.8 324.8 448.3 326 448.8C327.2 449.3 328.5 449.9 330 450.5C331.5 451.1 333.2 452.1 335 452.5C336.8 452.9 339 453.2 340.5 453.2C342 453.2 342.8 453.2 344 452.5C345.2 451.8 346.8 450.5 347.9 448.9C349 447.3 349.7 445 350.5 443C351.3 441 352 438.5 352.9 436.9C353.8 435.3 354.8 434.5 356 433.5C357.2 432.5 358.8 431.8 359.9 431C361 430.2 361.7 429.7 362.5 429C363.3 428.3 363.9 427.4 364.8 427C365.7 426.6 366.8 426.5 368 426.5C369.2 426.5 370.8 427.3 371.8 427C372.8 426.7 373.2 425.5 373.8 424.5C374.4 423.5 375.1 422.8 375.7 421C376.3 419.2 377 415.8 377.7 414C378.4 412.2 379 410.5 379.7 410.5C380.4 410.5 381 412.2 381.7 414C382.4 415.8 383 418.3 383.7 421C384.4 423.7 385.2 427.2 386 430C386.8 432.8 387.5 437.4 388.3 437.9C389.1 438.4 389.9 435.1 391 433C392.1 430.9 393.4 427.4 394.6 425C395.8 422.6 396.8 420.2 398 418.5C399.2 416.8 400.6 414.8 401.6 414.7C402.6 414.6 403.2 416.3 404 418C404.8 419.7 405.6 422.3 406.5 425C407.4 427.7 408.5 431.2 409.5 434C410.5 436.8 411.4 440.2 412.5 441.9C413.6 443.6 414.9 443.5 416 444C417.1 444.5 418.5 444.9 419.4 444.9C420.3 444.9 420.8 444.2 421.5 444C422.2 443.8 422.6 443.6 423.4 443.9C424.1 444.2 425.2 445.3 426 446C426.8 446.7 427.6 447.8 428.4 447.9C429.2 448 430.2 447.3 431 446.5C431.8 445.7 432.3 443.7 433 443C433.7 442.3 434.5 442.3 435.3 442.5C436.1 442.7 437 443.3 438 444C439 444.7 440.3 446.1 441.3 446.9C442.3 447.6 443.1 447.9 444 448.5C444.9 449.1 446.5 450.4 447 450.8" fill="none" stroke="#000" stroke-width="1.6" stroke-linejoin="round" stroke-linecap="round"/>
<path d="M257.1 435.6C257.4 436.1 258.3 437.3 259 438.5C259.7 439.7 260.6 442.1 261.5 443C262.4 443.9 263.5 443.6 264.5 444C265.5 444.4 266.6 444.7 267.7 445.5C268.8 446.3 269.5 447.9 271 449C272.5 450.1 274.7 451.6 276.5 452.1C278.3 452.7 280.1 452.4 282 452.3C283.9 452.2 286 451.7 288 451.5C290 451.3 292.4 450.9 294.2 451C296 451.1 297.4 452 299 452.3C300.6 452.6 302.2 453.1 304 453C305.8 452.9 308 452 310 451.5C312 451 314.6 450.6 316.2 450C317.8 449.4 318.4 448.6 319.5 448C320.6 447.4 321.7 446.6 322.8 446.6C323.9 446.6 324.8 447.4 326 448C327.2 448.6 328.7 449.8 330 450.5C331.3 451.2 332.6 451.9 334 452.5C335.4 453.1 337.1 454.1 338.3 454.3C339.5 454.6 340.1 454.2 341 454C341.9 453.8 343.1 453.5 344 453C344.9 452.5 345.8 452 346.5 451C347.2 450 347.8 448.8 348.5 447C349.2 445.2 350.1 442.7 351 440C351.9 437.3 352.9 434 353.9 431C354.9 428 356.1 424.4 357 422C357.9 419.6 358.5 417.7 359.5 416.5C360.5 415.3 361.7 414.6 362.8 414.7C363.9 414.8 364.9 415.9 366 417C367.1 418.1 368.4 420.2 369.5 421.5C370.6 422.8 371.9 425.4 372.8 425C373.7 424.6 374.2 422 374.8 419C375.4 416 376 412.7 376.7 407.2C377.4 401.7 378.2 391.6 379 386C379.8 380.4 380.6 374.2 381.3 373.4C382.1 372.6 382.8 377.7 383.5 381C384.2 384.3 384.9 390 385.7 393.3C386.4 396.6 387.2 399.1 388 401C388.8 402.9 389.7 405.3 390.6 404.8C391.5 404.3 392.5 401.6 393.5 398C394.5 394.4 395.6 387.8 396.6 383.3C397.6 378.8 398.6 373.9 399.5 371C400.4 368.1 401.4 365.7 402.2 365.9C403 366.1 403.6 368.4 404.3 372C405 375.6 405.7 381 406.5 387.3C407.3 393.6 408.2 403.1 409 410C409.8 416.9 410.7 424.1 411.5 429C412.3 433.9 413.2 436.9 414 439.5C414.8 442.1 415.6 443.5 416.5 444.9C417.4 446.3 418.6 447.8 419.4 447.9C420.2 448 420.8 446.3 421.5 445.5C422.2 444.7 422.6 443.5 423.4 442.9C424.1 442.3 425.2 442.2 426 442C426.8 441.8 427.6 442.7 428.4 441.9C429.2 441.1 430.2 438.9 431 437C431.8 435.1 432.4 432 433 430.5C433.6 429 434.2 427.9 434.9 428C435.6 428.1 436.1 428.5 437 431C437.9 433.5 439.2 439.9 440.3 442.9C441.4 445.9 442.4 447.4 443.5 449C444.6 450.6 446.4 452.2 447 452.8" fill="none" stroke="#f01010" stroke-width="1.6" stroke-linejoin="round" stroke-linecap="round"/>
<path d="M257.1 446.6C257.5 445.9 258.7 442.9 259.5 442.5C260.3 442.1 261 443.3 262 444C263 444.7 264.5 447.1 265.5 446.6C266.5 446.1 267.1 442.9 268 441C268.9 439.1 270.1 435.1 271 435.1C271.9 435.1 272.6 438.7 273.3 441C274 443.3 274.6 447.2 275.4 448.8C276.2 450.4 277.1 450.1 278 450.5C278.9 450.9 279.9 451.2 280.9 451C281.9 450.8 282.9 449.7 284 449C285.1 448.3 286.3 447.9 287.5 446.6C288.7 445.3 290.1 442.4 291 441C291.9 439.6 292.3 439 293 438.5C293.7 438 294.5 437.8 295.3 438.2C296.1 438.6 296.8 439.2 297.7 441C298.6 442.8 299.8 447 300.8 448.8C301.9 450.6 303 451.1 304 452C305 452.9 306.1 453.5 307 454C307.9 454.5 308.6 455.7 309.6 455C310.6 454.3 311.9 451.8 313 450C314.1 448.2 315.2 446.2 316.2 444.4C317.2 442.6 318.2 440.4 319 439C319.8 437.6 320.4 436.6 321 436C321.6 435.4 322.1 435.1 322.8 435.1C323.5 435.1 324.3 435.4 325 436C325.7 436.6 326.2 437.6 327 439C327.8 440.4 328.6 442.8 329.5 444.4C330.4 446 331.4 447.2 332.5 448.5C333.6 449.8 334.9 451.3 336.1 452.1C337.3 452.9 338.4 453 339.5 453.2C340.6 453.4 341.7 453.7 342.7 453.2C343.7 452.7 344.6 451.4 345.5 450C346.4 448.6 347.1 446.8 347.9 444.5C348.7 442.2 349.5 439.2 350.5 436C351.5 432.8 352.7 429.5 353.9 425C355.1 420.5 356.9 412.9 357.9 409.1C358.9 405.3 359.4 403.8 360 402C360.6 400.2 361.1 398.2 361.8 398.2C362.5 398.2 363 399.5 364 402C365 404.5 366.7 409.9 367.8 413.1C368.9 416.3 369.7 418.9 370.5 421C371.3 423.1 372.1 426.2 372.8 426C373.5 425.8 374.2 422.8 374.8 420C375.4 417.2 376 414.9 376.7 409.1C377.4 403.3 378.1 393.3 378.8 385C379.5 376.7 380 367 380.7 359.5C381.4 352 382.2 344.8 383 340C383.8 335.2 384.9 331.7 385.7 330.7C386.5 329.7 387.1 331.9 387.8 334C388.5 336.1 389 340.4 389.6 343.6C390.2 346.8 390.9 350.6 391.5 353C392.1 355.4 392.6 358.1 393.2 357.9C393.8 357.7 394.5 355.1 395.2 352C395.9 348.9 396.8 343.9 397.6 339.6C398.4 335.3 399.2 329.5 400 326C400.8 322.5 401.5 318.5 402.2 318.8C402.9 319.1 403.6 322.9 404.3 328C405 333.1 405.7 341.3 406.5 349.6C407.3 357.9 408.2 369.4 409 378C409.8 386.6 410.8 395 411.5 401.2C412.2 407.4 412.8 411 413.5 415C414.2 419 414.8 422.2 415.5 425C416.2 427.8 416.9 430.3 417.5 432C418.1 433.7 418.7 435.2 419.4 435C420.1 434.8 421 432.3 421.8 431C422.6 429.7 423.5 427.9 424.4 427C425.3 426.1 426.2 425.9 427 425.5C427.8 425.1 428.6 425.9 429.4 424.6C430.2 423.4 431.2 419.8 432 418C432.8 416.2 433.5 414.1 434.3 414.1C435.1 414.1 436 415.9 436.8 418C437.6 420.1 438.5 424.2 439.3 427C440.1 429.8 441 432.5 441.8 435C442.6 437.5 443.3 441.1 444.2 441.9C445.1 442.7 446.5 440.2 447 439.9" fill="none" stroke="#1010f0" stroke-width="1.6" stroke-linejoin="round" stroke-linecap="round"/>
<line x1="402.2" y1="308.9" x2="402.2" y2="385.3" stroke="#ff6060" stroke-width="0.7"/>
<line x1="377.7" y1="318.8" x2="386.1" y2="330.7" stroke="#1010f0" stroke-width="0.7"/>
<line x1="370.8" y1="359.5" x2="380.7" y2="372.4" stroke="#ff4040" stroke-width="0.7"/>
<line x1="353.9" y1="385.3" x2="361.8" y2="397.2" stroke="#1010f0" stroke-width="0.7"/>
<text x="402.5" y="304.9" font-size="15.9" fill="#f01010" text-anchor="middle" textLength="33.4" lengthAdjust="spacingAndGlyphs">1317</text>
<text x="370" y="316.8" font-size="15.9" fill="#1010f0" text-anchor="middle" textLength="33.4" lengthAdjust="spacingAndGlyphs">1286</text>
<text x="360.3" y="357.5" font-size="15.9" fill="#f01010" text-anchor="middle" textLength="33.4" lengthAdjust="spacingAndGlyphs">1279</text>
<text x="345.5" y="383.6" font-size="15.9" fill="#1010f0" text-anchor="middle" textLength="33.4" lengthAdjust="spacingAndGlyphs">1243</text>
<text x="284.2" y="478.3" font-size="13.7" fill="#000" text-anchor="middle">1100</text>
<text x="338.4" y="478.3" font-size="13.7" fill="#000" text-anchor="middle">1200</text>
<text x="392.5" y="478.3" font-size="13.7" fill="#000" text-anchor="middle">1300</text>
<text x="446.7" y="478.3" font-size="13.7" fill="#000" text-anchor="middle">1400</text>
<text x="252.6" y="460.8" font-size="13.7" fill="#000" text-anchor="end">0</text>
<text x="252.6" y="431.2" font-size="13.7" fill="#000" text-anchor="end">1</text>
<text x="252.6" y="401.6" font-size="13.7" fill="#000" text-anchor="end">2</text>
<text x="252.6" y="372" font-size="13.7" fill="#000" text-anchor="end">3</text>
<text x="252.6" y="342.4" font-size="13.7" fill="#000" text-anchor="end">4</text>
<text x="252.6" y="312.8" font-size="13.7" fill="#000" text-anchor="end">5</text>
<text x="252.6" y="283.2" font-size="13.7" fill="#000" text-anchor="end">6</text>
<text x="351.5" y="499.7" font-size="15.6" text-anchor="middle">Wavenumber (cm<tspan font-size="10" dy="-6">-1</tspan><tspan dy="6">)</tspan></text>
<text x="470" y="263.6" font-size="18.5" fill="#000" font-weight="bold">e</text>
<line x1="499.8" y1="462" x2="499.8" y2="458.4" stroke="#3a3a3a" stroke-width="1.1"/>
<line x1="499.8" y1="279.3" x2="499.8" y2="282.9" stroke="#3a3a3a" stroke-width="1.1"/>
<line x1="549.6" y1="462" x2="549.6" y2="458.4" stroke="#3a3a3a" stroke-width="1.1"/>
<line x1="549.6" y1="279.3" x2="549.6" y2="282.9" stroke="#3a3a3a" stroke-width="1.1"/>
<line x1="599.5" y1="462" x2="599.5" y2="458.4" stroke="#3a3a3a" stroke-width="1.1"/>
<line x1="599.5" y1="279.3" x2="599.5" y2="282.9" stroke="#3a3a3a" stroke-width="1.1"/>
<line x1="649.3" y1="462" x2="649.3" y2="458.4" stroke="#3a3a3a" stroke-width="1.1"/>
<line x1="649.3" y1="279.3" x2="649.3" y2="282.9" stroke="#3a3a3a" stroke-width="1.1"/>
<line x1="489.8" y1="462" x2="489.8" y2="460" stroke="#3a3a3a" stroke-width="1.1"/>
<line x1="489.8" y1="279.3" x2="489.8" y2="281.3" stroke="#3a3a3a" stroke-width="1.1"/>
<line x1="509.8" y1="462" x2="509.8" y2="460" stroke="#3a3a3a" stroke-width="1.1"/>
<line x1="509.8" y1="279.3" x2="509.8" y2="281.3" stroke="#3a3a3a" stroke-width="1.1"/>
<line x1="519.7" y1="462" x2="519.7" y2="460" stroke="#3a3a3a" stroke-width="1.1"/>
<line x1="519.7" y1="279.3" x2="519.7" y2="281.3" stroke="#3a3a3a" stroke-width="1.1"/>
<line x1="529.7" y1="462" x2="529.7" y2="460" stroke="#3a3a3a" stroke-width="1.1"/>
<line x1="529.7" y1="279.3" x2="529.7" y2="281.3" stroke="#3a3a3a" stroke-width="1.1"/>
<line x1="539.7" y1="462" x2="539.7" y2="460" stroke="#3a3a3a" stroke-width="1.1"/>
<line x1="539.7" y1="279.3" x2="539.7" y2="281.3" stroke="#3a3a3a" stroke-width="1.1"/>
<line x1="559.6" y1="462" x2="559.6" y2="460" stroke="#3a3a3a" stroke-width="1.1"/>
<line x1="559.6" y1="279.3" x2="559.6" y2="281.3" stroke="#3a3a3a" stroke-width="1.1"/>
<line x1="569.6" y1="462" x2="569.6" y2="460" stroke="#3a3a3a" stroke-width="1.1"/>
<line x1="569.6" y1="279.3" x2="569.6" y2="281.3" stroke="#3a3a3a" stroke-width="1.1"/>
<line x1="579.5" y1="462" x2="579.5" y2="460" stroke="#3a3a3a" stroke-width="1.1"/>
<line x1="579.5" y1="279.3" x2="579.5" y2="281.3" stroke="#3a3a3a" stroke-width="1.1"/>
<line x1="589.5" y1="462" x2="589.5" y2="460" stroke="#3a3a3a" stroke-width="1.1"/>
<line x1="589.5" y1="279.3" x2="589.5" y2="281.3" stroke="#3a3a3a" stroke-width="1.1"/>
<line x1="609.4" y1="462" x2="609.4" y2="460" stroke="#3a3a3a" stroke-width="1.1"/>
<line x1="609.4" y1="279.3" x2="609.4" y2="281.3" stroke="#3a3a3a" stroke-width="1.1"/>
<line x1="619.4" y1="462" x2="619.4" y2="460" stroke="#3a3a3a" stroke-width="1.1"/>
<line x1="619.4" y1="279.3" x2="619.4" y2="281.3" stroke="#3a3a3a" stroke-width="1.1"/>
<line x1="629.4" y1="462" x2="629.4" y2="460" stroke="#3a3a3a" stroke-width="1.1"/>
<line x1="629.4" y1="279.3" x2="629.4" y2="281.3" stroke="#3a3a3a" stroke-width="1.1"/>
<line x1="639.3" y1="462" x2="639.3" y2="460" stroke="#3a3a3a" stroke-width="1.1"/>
<line x1="639.3" y1="279.3" x2="639.3" y2="281.3" stroke="#3a3a3a" stroke-width="1.1"/>
<line x1="659.3" y1="462" x2="659.3" y2="460" stroke="#3a3a3a" stroke-width="1.1"/>
<line x1="659.3" y1="279.3" x2="659.3" y2="281.3" stroke="#3a3a3a" stroke-width="1.1"/>
<line x1="479.3" y1="458.2" x2="482.9" y2="458.2" stroke="#3a3a3a" stroke-width="1.1"/>
<line x1="669.7" y1="458.2" x2="666.1" y2="458.2" stroke="#3a3a3a" stroke-width="1.1"/>
<line x1="479.3" y1="418.4" x2="482.9" y2="418.4" stroke="#3a3a3a" stroke-width="1.1"/>
<line x1="669.7" y1="418.4" x2="666.1" y2="418.4" stroke="#3a3a3a" stroke-width="1.1"/>
<line x1="479.3" y1="378.6" x2="482.9" y2="378.6" stroke="#3a3a3a" stroke-width="1.1"/>
<line x1="669.7" y1="378.6" x2="666.1" y2="378.6" stroke="#3a3a3a" stroke-width="1.1"/>
<line x1="479.3" y1="338.8" x2="482.9" y2="338.8" stroke="#3a3a3a" stroke-width="1.1"/>
<line x1="669.7" y1="338.8" x2="666.1" y2="338.8" stroke="#3a3a3a" stroke-width="1.1"/>
<line x1="479.3" y1="299" x2="482.9" y2="299" stroke="#3a3a3a" stroke-width="1.1"/>
<line x1="669.7" y1="299" x2="666.1" y2="299" stroke="#3a3a3a" stroke-width="1.1"/>
<line x1="479.3" y1="438.3" x2="481.3" y2="438.3" stroke="#3a3a3a" stroke-width="1.1"/>
<line x1="669.7" y1="438.3" x2="667.7" y2="438.3" stroke="#3a3a3a" stroke-width="1.1"/>
<line x1="479.3" y1="398.5" x2="481.3" y2="398.5" stroke="#3a3a3a" stroke-width="1.1"/>
<line x1="669.7" y1="398.5" x2="667.7" y2="398.5" stroke="#3a3a3a" stroke-width="1.1"/>
<line x1="479.3" y1="358.7" x2="481.3" y2="358.7" stroke="#3a3a3a" stroke-width="1.1"/>
<line x1="669.7" y1="358.7" x2="667.7" y2="358.7" stroke="#3a3a3a" stroke-width="1.1"/>
<line x1="479.3" y1="318.9" x2="481.3" y2="318.9" stroke="#3a3a3a" stroke-width="1.1"/>
<line x1="669.7" y1="318.9" x2="667.7" y2="318.9" stroke="#3a3a3a" stroke-width="1.1"/>
<rect x="479.3" y="279.3" width="190.4" height="182.7" fill="none" stroke="#3a3a3a" stroke-width="1.1"/>
<path d="M479.3 456.8C481.1 456.8 486 457.2 490 457C494 456.8 499.1 456.6 503.1 455.6C507.1 454.6 510.2 452.6 514.2 451.1C518.2 449.6 523.1 447.9 527.4 446.7C531.7 445.5 535 444.8 540 444C545 443.2 553.4 442.6 557.6 442C561.8 441.4 562.5 440.9 565 440.5C567.5 440.1 570.8 439.5 572.6 439.4C574.4 439.2 575 439.2 576 439.6C577 440 577.8 441.1 578.8 442C579.8 442.9 580.8 444 582 445C583.2 446 584.5 447.6 586.3 448.1C588.1 448.6 591 447.9 592.9 448.2C594.8 448.5 595.8 449.4 597.5 450C599.2 450.6 601.1 451 603 451.5C604.9 452 607 452.4 608.8 452.8C610.6 453.2 612.1 453.5 614 454C615.9 454.5 617.3 455.3 620 455.6C622.7 455.9 625.8 455.9 630 456C634.2 456.1 638.4 456.1 645 456.2C651.6 456.3 665.4 456.4 669.5 456.5" fill="none" stroke="#c8c8c8" stroke-width="1.9" stroke-linejoin="round" stroke-linecap="round"/>
<path d="M479.3 452.2C480 452.3 482.1 452.7 483.5 453C484.9 453.3 486.4 453.7 487.7 454C488.9 454.3 489.9 454.5 491 454.7C492.1 454.9 493.3 455.1 494.3 455.1C495.3 455.1 496.1 454.9 497 454.8C497.9 454.7 498.9 455 499.8 454.3C500.7 453.6 501.6 451.8 502.5 450.5C503.4 449.2 504.4 447.9 505.3 446.7C506.2 445.4 507.1 443.9 508 443C508.9 442.1 509.9 441.3 510.9 441.2C511.9 441.1 512.9 441.9 514 442.5C515.1 443.1 516.3 443.9 517.5 444.5C518.7 445.1 519.7 445.5 521 446C522.3 446.5 523.7 447.3 525.2 447.4C526.7 447.5 528.5 446.8 530 446.5C531.5 446.2 532.4 446.1 534.1 445.6C535.8 445.2 538.1 444.4 540 443.8C541.9 443.2 543.8 442.1 545.3 442C546.8 441.9 547.8 443.2 549 443.5C550.2 443.8 551.2 444.1 552.4 443.8C553.6 443.6 554.8 442.7 556 442C557.2 441.3 558.4 441.1 559.4 439.4C560.4 437.7 561.1 434.6 562 432C562.9 429.4 563.7 427 564.7 423.5C565.7 420 566.8 414.8 567.8 411C568.8 407.2 569.9 403.4 570.9 400.6C571.9 397.8 573 395.5 574 394C575 392.5 576.1 391.4 577.1 391.4C578.1 391.4 578.9 392.5 579.8 394C580.7 395.5 581.5 398.4 582.4 400.6C583.3 402.8 584.1 404.9 585 407C585.9 409.1 586.8 411.6 587.6 412.9C588.4 414.2 589.1 414.4 590 415C590.9 415.6 592.1 416.1 592.9 416.5C593.7 416.9 594.2 417.1 595 417.5C595.8 417.9 596.6 418.2 597.5 419.1C598.4 420 599.4 421.6 600.3 423C601.2 424.4 602.1 425.8 603.1 427.5C604.1 429.2 605 431.1 606 433C607 434.9 607.9 437.1 608.8 438.8C609.7 440.6 610.7 442.1 611.6 443.5C612.5 444.9 613.5 446.3 614.4 447.2C615.3 448.1 616.1 448.5 617 449C617.9 449.5 618.3 449.7 620 450C621.7 450.3 624.5 450.7 627 451C629.5 451.3 632 451.6 635 451.9C638 452.1 641.7 452.2 645 452.5C648.3 452.8 652.2 453.2 655 453.5C657.8 453.8 659.6 453.8 662 454C664.4 454.2 668.2 454.6 669.5 454.7" fill="none" stroke="#000" stroke-width="1.6" stroke-linejoin="round" stroke-linecap="round"/>
<path d="M479.3 450.2C480 450.3 482.1 450.7 483.5 451C484.9 451.3 486.4 451.7 487.7 452C488.9 452.3 489.9 452.7 491 453C492.1 453.3 493.3 453.7 494.3 453.8C495.3 453.9 496.1 454 497 453.8C497.9 453.6 498.9 453.7 499.8 452.7C500.7 451.7 501.6 450.1 502.5 448C503.4 445.9 504.4 443.1 505.3 440.1C506.2 437.1 507.2 432.7 508 430C508.8 427.3 509.5 425.4 510.3 424C511.1 422.6 511.8 421.4 512.6 421.3C513.4 421.2 514.2 422.2 515 423.5C515.8 424.8 516.7 427.3 517.5 429C518.3 430.7 518.9 432 519.7 433.5C520.5 435 521.7 436.8 522.5 438C523.3 439.2 523.9 440.3 524.5 441C525.1 441.7 525.5 442.2 526.3 442.3C527 442.4 528 441.9 529 441.5C530 441.1 530.8 440.6 532 440C533.2 439.4 535 438.6 536.3 437.9C537.6 437.2 538.6 437 540 435.9C541.4 434.8 543 433 544.5 431.5C546 430 547.6 428.8 548.8 427C550 425.2 550.6 423.4 551.5 421C552.4 418.6 553.2 416.2 554.1 412.9C555 409.6 555.9 405.1 556.8 401C557.7 396.9 558.5 392.5 559.4 388.2C560.3 383.9 561.1 379.4 562 375C562.9 370.6 563.7 366 564.7 361.8C565.7 357.6 566.8 353.4 567.8 350C568.8 346.6 569.9 343.7 570.9 341.5C571.9 339.3 572.6 338 573.5 337C574.4 336 575.3 335.1 576.2 335.3C577.1 335.6 577.9 336.7 578.8 338.5C579.7 340.3 580.7 343 581.5 345.9C582.3 348.8 583 351.9 583.7 356C584.4 360.1 585.2 366.5 585.9 370.6C586.5 374.7 587 377.6 587.6 380.5C588.2 383.4 588.8 386.4 589.4 388.2C590 390 590.4 390.8 591 391.5C591.6 392.2 592.3 392.6 592.9 392.6C593.5 392.6 593.9 391.8 594.5 391.5C595.1 391.2 595.9 390.9 596.5 390.9C597.1 390.9 597.7 391.2 598.3 391.5C598.9 391.8 599.6 391.9 600.3 392.8C601 393.7 601.7 395 602.5 397C603.3 399 604.1 401.7 605 405C605.9 408.3 606.9 412.9 607.8 417C608.7 421.1 609.6 425.8 610.6 429.4C611.6 433 612.5 436 613.5 438.5C614.5 441 615.2 442.7 616.3 444.4C617.4 446.1 618.8 447.4 620 448.5C621.2 449.6 622.1 450.3 623.8 450.9C625.5 451.5 627.3 451.6 630 452C632.7 452.4 636.7 453.1 640 453.5C643.3 453.9 646.7 454.2 650 454.5C653.3 454.8 656.8 454.9 660 455.3C663.2 455.7 667.9 456.4 669.5 456.6" fill="none" stroke="#f01010" stroke-width="1.6" stroke-linejoin="round" stroke-linecap="round"/>
<path d="M479.3 448.5C480 448.6 482.1 448.8 483.5 449C484.9 449.2 486.4 449.6 487.7 450C488.9 450.4 489.9 451.1 491 451.5C492.1 451.9 493.3 452.1 494.3 452.2C495.3 452.3 496.1 452.4 497 452.3C497.9 452.2 498.9 452.7 499.8 451.6C500.7 450.6 501.6 448.3 502.5 446C503.4 443.7 504.4 440.9 505.3 437.9C506.2 434.9 506.9 431.3 507.6 428C508.4 424.7 509 420.8 509.8 418C510.6 415.2 511.5 412.6 512.3 411C513.1 409.4 514 408.5 514.8 408.7C515.6 408.9 516.4 410.4 517.2 412C518 413.6 518.8 415.8 519.7 418C520.6 420.2 521.6 422.8 522.5 425C523.4 427.2 524.4 429.6 525.2 431.3C526 433 526.8 434.2 527.5 435C528.2 435.8 528.8 436.2 529.6 436.1C530.4 436 531.4 435.3 532.5 434.5C533.6 433.7 535 432.7 536.3 431.3C537.5 429.9 538.8 428.1 540 426.2C541.2 424.3 542.3 422.2 543.5 420C544.7 417.8 546.1 415.7 547.1 412.9C548.1 410.1 548.9 406.5 549.8 403C550.7 399.5 551.5 396.5 552.4 391.8C553.3 387.1 554.1 380.6 555 375C555.9 369.4 556.7 363.7 557.6 358.2C558.5 352.7 559.4 347 560.3 342C561.2 337 561.9 332.2 562.9 328.2C563.9 324.2 565 320.6 566 318C567 315.4 568.1 313.1 569.1 312.7C570.1 312.3 571.2 313.8 572.2 315.5C573.2 317.2 574.3 319.6 575.3 322.9C576.3 326.1 577.4 330.6 578.4 335C579.4 339.4 580.5 344.7 581.5 349.4C582.5 354.1 583.3 358.3 584.2 363C585.1 367.7 585.9 373.3 586.8 377.6C587.7 381.9 588.6 385.9 589.5 389C590.4 392.1 591.3 395.3 592.1 396.2C592.9 397.1 593.6 395.5 594.3 394.5C595 393.5 595.7 391.4 596.5 390C597.3 388.6 598.1 386.9 599 386C599.9 385.1 600.8 384.4 601.6 384.4C602.4 384.4 603.1 385.1 603.8 386C604.5 386.9 605.2 388 606 390C606.8 392 607.5 394.9 608.3 398C609.1 401.1 609.7 405.2 610.6 408.8C611.5 412.4 612.5 416.1 613.5 419.5C614.5 422.9 615.4 426.4 616.3 429.4C617.2 432.4 618.1 435 619 437.5C619.9 440 621 442.6 621.9 444.4C622.8 446.1 623.6 447.1 624.5 448C625.4 448.9 626.4 449.4 627.5 450C628.6 450.6 629.8 451 631 451.5C632.2 452 633.5 452.4 635 452.8C636.5 453.2 638.4 453.5 640 453.8C641.6 454.1 642.7 454.6 644.4 454.7C646.1 454.8 648.2 454.4 650 454.5C651.8 454.6 653.3 454.9 655 455C656.7 455.1 658.3 455.2 660 455.3C661.7 455.4 663.4 455.3 665 455.5C666.6 455.7 668.8 456.4 669.5 456.6" fill="none" stroke="#1010f0" stroke-width="1.6" stroke-linejoin="round" stroke-linecap="round"/>
<line x1="555" y1="298.7" x2="568.3" y2="312" stroke="#1010f0" stroke-width="0.7"/>
<line x1="509.8" y1="397" x2="515.3" y2="407" stroke="#1010f0" stroke-width="0.7"/>
<line x1="586.3" y1="320.6" x2="577.8" y2="334.7" stroke="#ff4040" stroke-width="0.7"/>
<line x1="598.4" y1="354.4" x2="577.8" y2="390" stroke="#222" stroke-width="0.7"/>
<line x1="621.9" y1="362.8" x2="602.2" y2="383.4" stroke="#1010f0" stroke-width="0.7"/>
<line x1="616.3" y1="397.5" x2="597.5" y2="417.2" stroke="#222" stroke-width="0.7"/>
<text x="544.6" y="296.5" font-size="15.9" fill="#1010f0" text-anchor="middle" textLength="33.4" lengthAdjust="spacingAndGlyphs">1619</text>
<text x="509.8" y="391.9" font-size="15.9" fill="#1010f0" text-anchor="middle" textLength="33.4" lengthAdjust="spacingAndGlyphs">1565</text>
<text x="594.7" y="318.8" font-size="15.9" fill="#f01010" text-anchor="middle" textLength="33.4" lengthAdjust="spacingAndGlyphs">1627</text>
<text x="602.7" y="349.7" font-size="15.9" fill="#000" text-anchor="middle" textLength="33.4" lengthAdjust="spacingAndGlyphs">1628</text>
<text x="637.4" y="361.9" font-size="15.9" fill="#1010f0" text-anchor="middle" textLength="33.4" lengthAdjust="spacingAndGlyphs">1652</text>
<text x="631" y="395.6" font-size="15.9" fill="#000" text-anchor="middle" textLength="33.4" lengthAdjust="spacingAndGlyphs">1647</text>
<text x="499.8" y="478.3" font-size="13.7" fill="#000" text-anchor="middle">1550</text>
<text x="549.6" y="478.3" font-size="13.7" fill="#000" text-anchor="middle">1600</text>
<text x="599.5" y="478.3" font-size="13.7" fill="#000" text-anchor="middle">1650</text>
<text x="649.3" y="478.3" font-size="13.7" fill="#000" text-anchor="middle">1700</text>
<text x="474.2" y="462.9" font-size="13.7" fill="#000" text-anchor="end">0</text>
<text x="474.2" y="423.1" font-size="13.7" fill="#000" text-anchor="end">2</text>
<text x="474.2" y="383.3" font-size="13.7" fill="#000" text-anchor="end">4</text>
<text x="474.2" y="343.5" font-size="13.7" fill="#000" text-anchor="end">6</text>
<text x="474.2" y="303.7" font-size="13.7" fill="#000" text-anchor="end">8</text>
<text x="574.5" y="499.7" font-size="15.6" text-anchor="middle">Wavenumber (cm<tspan font-size="10" dy="-6">-1</tspan><tspan dy="6">)</tspan></text>
<rect x="592.3" y="253.2" width="92.3" height="48.2" fill="#fff" stroke="#c8c8c8" stroke-width="0.9"/>
<text x="593.4" y="263.4" font-size="9.5" fill="#000">(</text>
<line x1="596.7" y1="260.2" x2="618.9" y2="260.2" stroke="#c8c8c8" stroke-width="1.7"/>
<text x="621.5" y="263.4" font-size="9.5" fill="#000">BV)</text>
<line x1="593" y1="272.2" x2="616" y2="272.2" stroke="#000" stroke-width="1.7"/>
<text x="618.6" y="275.6" font-size="9.65" fill="#000">EAS1 (2.1 min)</text>
<line x1="593" y1="284.1" x2="616" y2="284.1" stroke="#f01010" stroke-width="1.7"/>
<text x="618.6" y="287.4" font-size="9.65" fill="#000">EAS2 (18 min)</text>
<line x1="593" y1="295.9" x2="616" y2="295.9" stroke="#1010f0" stroke-width="1.7"/>
<text x="618.6" y="299.3" font-size="9.65" fill="#000">EAS3 (Inf.)</text>
<text x="80" y="557.1" font-size="17" fill="#000" font-weight="bold">f</text>
<path d="M146.2 634.8 Q163.5 620.8 180.5 632.8" fill="none" stroke="#111" stroke-width="1.3"/>
<rect x="119.2" y="632.3" width="27.6" height="67.8" rx="4" fill="#fde5d9" stroke="#f57a2e" stroke-width="1.0"/>
<rect x="179.5" y="631.6" width="46" height="68.5" rx="4" fill="#b3dcfa" stroke="#3d4ef2" stroke-width="1.2"/>
<rect x="168.3" y="653.3" width="39.2" height="41.9" rx="3.6" fill="#fdebfc" stroke="#f23ef2" stroke-width="1.2"/>
<rect x="146.2" y="671.6" width="1.2" height="18" fill="#fde5d9"/>
<text x="137.6" y="682.3" font-size="12.6" fill="#fa6a0a" font-weight="bold" textLength="18.8" lengthAdjust="spacingAndGlyphs" stroke="#fa6a0a" stroke-width="0.35">Cys</text>
<path d="M324.3 633 Q339.6 621.5 354.9 633.5" fill="none" stroke="#111" stroke-width="1.3"/>
<rect x="298.1" y="631.6" width="27.5" height="68.5" rx="4" fill="#fde5d9" stroke="#f57a2e" stroke-width="1.0"/>
<rect x="354.7" y="631.6" width="45.2" height="68.5" rx="4" fill="#b3dcfa" stroke="#3d4ef2" stroke-width="1.2"/>
<rect x="342.8" y="653.3" width="39.5" height="42" rx="3.6" fill="#fdebfc" stroke="#f23ef2" stroke-width="1.2"/>
<rect x="325" y="670" width="1.2" height="18" fill="#fde5d9"/>
<text x="316.3" y="680.7" font-size="12.6" fill="#fa6a0a" font-weight="bold" textLength="18.8" lengthAdjust="spacingAndGlyphs" stroke="#fa6a0a" stroke-width="0.35">Cys</text>
<polyline points="354,665.5 355.8,662.3 359.4,662.2" fill="none" stroke="#000" stroke-width="1.0" stroke-linejoin="round"/>
<polyline points="367.3,660.5 373.2,663.5 374.3,668.3" fill="none" stroke="#000" stroke-width="1.0" stroke-linejoin="round"/>
<polyline points="369.6,675.2 367.9,678.9 369.2,682.3" fill="none" stroke="#000" stroke-width="1.0" stroke-linejoin="round"/>
<polygon points="351.9,664.4 355.4,668.2 352.8,672.7 347.7,671.6 347.2,666.5" fill="#fde0f6" stroke="#000" stroke-width="1.1" stroke-linejoin="round"/>
<polygon points="362.7,655.6 367.2,658 366.3,663 361.3,663.7 359.1,659.2" fill="#fde0f6" stroke="#000" stroke-width="1.1" stroke-linejoin="round"/>
<polygon points="375,668.7 377.8,672.9 374.7,676.8 369.9,675.1 370.1,670.1" fill="#fde0f6" stroke="#000" stroke-width="1.1" stroke-linejoin="round"/>
<polygon points="372.5,682.5 376.6,685.5 375,690.3 370,690.3 368.4,685.5" fill="#fde0f6" stroke="#000" stroke-width="1.1" stroke-linejoin="round"/>
<circle cx="365.3" cy="669.7" r="4.2" fill="#f2f000" stroke="#c8c000" stroke-width="0.5"/>
<line x1="363" y1="669.7" x2="367.6" y2="669.7" stroke="#111" stroke-width="0.8"/>
<line x1="365.3" y1="667.4" x2="365.3" y2="672" stroke="#111" stroke-width="0.8"/>
<path d="M324.5 782.7 Q340.3 771.6 355 782.9" fill="none" stroke="#111" stroke-width="1.3"/>
<rect x="298.4" y="781.2" width="27" height="68.5" rx="4" fill="#fde5d9" stroke="#f57a2e" stroke-width="1.0"/>
<rect x="354.6" y="781.2" width="45.6" height="68.5" rx="4" fill="#b3dcfa" stroke="#3d4ef2" stroke-width="1.2"/>
<rect x="342.7" y="802.7" width="39.5" height="42.5" rx="3.6" fill="#fdebfc" stroke="#f23ef2" stroke-width="1.2"/>
<rect x="324.8" y="820.6" width="1.2" height="18" fill="#fde5d9"/>
<text x="315.8" y="831.3" font-size="12.6" fill="#fa6a0a" font-weight="bold" textLength="18.8" lengthAdjust="spacingAndGlyphs" stroke="#fa6a0a" stroke-width="0.35">Cys</text>
<polyline points="353.3,816.1 355.1,812.9 358.9,812.6" fill="none" stroke="#000" stroke-width="1.0" stroke-linejoin="round"/>
<polyline points="366.8,810.9 372.7,813.9 373.8,819.5" fill="none" stroke="#000" stroke-width="1.0" stroke-linejoin="round"/>
<polyline points="369.1,826.4 367.4,830.1 368.7,832.9" fill="none" stroke="#000" stroke-width="1.0" stroke-linejoin="round"/>
<polygon points="351.2,815 354.7,818.8 352.1,823.3 347,822.2 346.5,817.1" fill="#fde0f6" stroke="#000" stroke-width="1.1" stroke-linejoin="round"/>
<polygon points="362.2,806 366.7,808.4 365.8,813.4 360.8,814.1 358.6,809.6" fill="#fde0f6" stroke="#000" stroke-width="1.1" stroke-linejoin="round"/>
<polygon points="374.5,819.9 377.3,824.1 374.2,828 369.4,826.3 369.6,821.3" fill="#fde0f6" stroke="#000" stroke-width="1.1" stroke-linejoin="round"/>
<polygon points="372,833.1 376.1,836.1 374.5,840.9 369.5,840.9 367.9,836.1" fill="#fde0f6" stroke="#000" stroke-width="1.1" stroke-linejoin="round"/>
<circle cx="365.2" cy="821.5" r="4.2" fill="#f2f000" stroke="#c8c000" stroke-width="0.5"/>
<line x1="362.9" y1="821.5" x2="367.5" y2="821.5" stroke="#111" stroke-width="0.8"/>
<line x1="365.2" y1="819.2" x2="365.2" y2="823.8" stroke="#111" stroke-width="0.8"/>
<path d="M534.4 784.8 Q550.3 773 565 784.4" fill="none" stroke="#111" stroke-width="1.3"/>
<rect x="508" y="782.9" width="27" height="68.5" rx="4" fill="#fde5d9" stroke="#f57a2e" stroke-width="1.0"/>
<rect x="564.6" y="782.9" width="45" height="68.5" rx="4" fill="#b3dcfa" stroke="#3d4ef2" stroke-width="1.2"/>
<rect x="552.3" y="804.6" width="39.5" height="42.7" rx="3.6" fill="#fdebfc" stroke="#f23ef2" stroke-width="1.2"/>
<rect x="534.4" y="820.8" width="1.2" height="18" fill="#fde5d9"/>
<text x="525.8" y="831.5" font-size="12.6" fill="#fa6a0a" font-weight="bold" textLength="18.8" lengthAdjust="spacingAndGlyphs" stroke="#fa6a0a" stroke-width="0.35">Cys</text>
<polyline points="562.5,819.1 564.3,815.9 567.4,815.8" fill="none" stroke="#000" stroke-width="1.0" stroke-linejoin="round"/>
<polyline points="575.3,814.1 581.2,817.1 582.8,822" fill="none" stroke="#000" stroke-width="1.0" stroke-linejoin="round"/>
<polyline points="578.1,828.9 576.4,832.6 577.7,835.6" fill="none" stroke="#000" stroke-width="1.0" stroke-linejoin="round"/>
<line x1="543.5" y1="825" x2="558.5" y2="821.8" stroke="#e00000" stroke-width="2.6" stroke-linecap="round"/>
<polygon points="560.4,818 563.9,821.8 561.3,826.3 556.2,825.2 555.7,820.1" fill="#e60000" stroke="#000" stroke-width="1.1" stroke-linejoin="round"/>
<polygon points="570.7,809.2 575.2,811.6 574.3,816.6 569.3,817.3 567.1,812.8" fill="#e60000" stroke="#000" stroke-width="1.1" stroke-linejoin="round"/>
<polygon points="583.5,822.4 586.3,826.6 583.2,830.5 578.4,828.8 578.6,823.8" fill="#e60000" stroke="#000" stroke-width="1.1" stroke-linejoin="round"/>
<polygon points="581,835.8 585.1,838.8 583.5,843.6 578.5,843.6 576.9,838.8" fill="#e60000" stroke="#000" stroke-width="1.1" stroke-linejoin="round"/>
<circle cx="575.2" cy="823.4" r="4.2" fill="#f2f000" stroke="#c8c000" stroke-width="0.5"/>
<line x1="572.9" y1="823.4" x2="577.5" y2="823.4" stroke="#111" stroke-width="0.8"/>
<line x1="575.2" y1="821.1" x2="575.2" y2="825.7" stroke="#111" stroke-width="0.8"/>
<text x="125.6" y="716.6" font-size="15.2" fill="#f57424" textLength="24" lengthAdjust="spacingAndGlyphs" stroke="#f57424" stroke-width="0.2">PAS</text>
<text x="155.3" y="709.5" font-size="15.2" fill="#f522f5" textLength="25.8" lengthAdjust="spacingAndGlyphs" stroke="#f522f5" stroke-width="0.2">CBP</text>
<text x="189.8" y="715.9" font-size="15.2" fill="#1a22f0" textLength="26.6" lengthAdjust="spacingAndGlyphs" stroke="#1a22f0" stroke-width="0.2">GAF</text>
<text x="160.6" y="571.6" font-size="10.6" fill="#000" textLength="31.2" lengthAdjust="spacingAndGlyphs" stroke="#000" stroke-width="0.15">ZZZsss</text>
<text x="141.9" y="586.2" font-size="10.6" fill="#000" textLength="68.3" lengthAdjust="spacingAndGlyphs" stroke="#000" stroke-width="0.15">unprotonated</text>
<text x="127.8" y="601.4" font-size="10.6" fill="#000" textLength="96.3" lengthAdjust="spacingAndGlyphs" stroke="#000" stroke-width="0.15">unbound to protein</text>
<text x="334.7" y="571.6" font-size="10.6" fill="#000" font-weight="bold" textLength="32.4" lengthAdjust="spacingAndGlyphs">ZZZssa</text>
<text x="322.9" y="586.2" font-size="10.6" fill="#000" font-weight="bold" textLength="56.4" lengthAdjust="spacingAndGlyphs">protonated</text>
<text x="299.1" y="601.4" font-size="10.6" fill="#000" textLength="103.9" lengthAdjust="spacingAndGlyphs" stroke="#000" stroke-width="0.15">noncovalently bound</text>
<text x="334.7" y="874.2" font-size="10.6" fill="#000" font-weight="bold" textLength="32.4" lengthAdjust="spacingAndGlyphs">ZZZssa</text>
<text x="322.9" y="888.5" font-size="10.6" fill="#000" font-weight="bold" textLength="56.4" lengthAdjust="spacingAndGlyphs">protonated</text>
<text x="299.1" y="903.6" font-size="10.6" fill="#000" textLength="103.9" lengthAdjust="spacingAndGlyphs" stroke="#000" stroke-width="0.15">noncovalently bound</text>
<text x="538.1" y="874" font-size="10.6" fill="#000" font-weight="bold" textLength="32.1" lengthAdjust="spacingAndGlyphs">ZZZssa</text>
<text x="526.4" y="888.4" font-size="10.6" fill="#000" font-weight="bold" textLength="56" lengthAdjust="spacingAndGlyphs">protonated</text>
<text x="493.1" y="903.5" font-size="10.6" fill="#000" font-weight="bold" textLength="121.6" lengthAdjust="spacingAndGlyphs">covalently bound to PAS</text>
<line x1="245.4" y1="667.5" x2="277.3" y2="667.5" stroke="#000" stroke-width="2.1"/>
<polygon points="283,667.5 276.8,670.4 276.8,664.6" fill="#000"/>
<line x1="346.6" y1="720" x2="346.6" y2="751.9" stroke="#000" stroke-width="2.1"/>
<polygon points="346.6,757.6 343.7,751.4 349.5,751.4" fill="#000"/>
<line x1="428" y1="818.2" x2="481.8" y2="818.2" stroke="#000" stroke-width="2.1"/>
<polygon points="487.5,818.2 481.3,821.1 481.3,815.3" fill="#000"/>
<text x="239.6" y="689.3" font-size="14.4" fill="#000" textLength="41.7" lengthAdjust="spacingAndGlyphs">&lt;1 min</text>
<text x="374.1" y="728.1" font-size="13.6" fill="#000" textLength="45.2" lengthAdjust="spacingAndGlyphs">2.1 min</text>
<text x="371.8" y="746" font-size="13.6" fill="#000" textLength="49" lengthAdjust="spacingAndGlyphs">(H-bond</text>
<text x="364.4" y="763.4" font-size="13.6" fill="#000" textLength="64.4" lengthAdjust="spacingAndGlyphs">formation)</text>
<text x="433.3" y="803.6" font-size="13.6" fill="#000" textLength="41.4" lengthAdjust="spacingAndGlyphs">18 min</text>
<path d="M175.9 740.7 Q170 733 168.6 723.5" fill="none" stroke="#111" stroke-width="1.1"/>
<polygon points="167.7,719.6 165.3,725.6 171.0,724.6" fill="#111"/>
<polyline points="178.3,746.5 179.3,743.8 181.2,742.6" fill="none" stroke="#000" stroke-width="1.0" stroke-linejoin="round"/>
<polyline points="188.6,739.3 193.4,740.7 195.2,745.2" fill="none" stroke="#000" stroke-width="1.0" stroke-linejoin="round"/>
<polyline points="193,752.9 192.8,756.1 190,757.9" fill="none" stroke="#000" stroke-width="1.0" stroke-linejoin="round"/>
<polygon points="185,735.5 188.5,739 186.1,743.4 181.3,742.5 180.6,737.6" fill="#fbd8f4" stroke="#000" stroke-width="1.1" stroke-linejoin="round"/>
<polygon points="195.9,745 199.9,747.9 198.4,752.6 193.4,752.6 191.9,747.9" fill="#fbd8f4" stroke="#000" stroke-width="1.1" stroke-linejoin="round"/>
<polygon points="177,746.5 180.1,750.4 177.4,754.5 172.6,753.2 172.4,748.3" fill="#fbd8f4" stroke="#000" stroke-width="1.1" stroke-linejoin="round"/>
<polygon points="185.8,756 190.2,758.1 189.5,763 184.7,763.9 182.3,759.5" fill="#fbd8f4" stroke="#000" stroke-width="1.1" stroke-linejoin="round"/>
<text x="212" y="750.6" font-size="13.6" fill="#000" font-weight="bold" textLength="16" lengthAdjust="spacingAndGlyphs">BV</text>
<text x="500.4" y="717.8" font-size="12.6" fill="#c00000" font-weight="bold" textLength="18.4" lengthAdjust="spacingAndGlyphs">PAS</text>
<text x="516.6" y="727.6" font-size="6.4" fill="#333" textLength="9.4" lengthAdjust="spacingAndGlyphs">Cys</text>
<text x="535.4" y="728" font-size="7.2" fill="#333">S</text>
<line x1="526.6" y1="725.4" x2="535" y2="725.4" stroke="#555" stroke-width="0.8"/>
<polyline points="540.2,725.2 549.8,725.2 556.4,714.2 569.1,714.2" fill="none" stroke="#555" stroke-width="0.8" stroke-linejoin="round"/>
<polyline points="569.1,714.2 575.6,704.2 585.6,707" fill="none" stroke="#555" stroke-width="0.8" stroke-linejoin="round"/>
<polyline points="588.3,711 588.3,720.4 576.1,724.3 569.1,714.2" fill="none" stroke="#555" stroke-width="0.8" stroke-linejoin="round"/>
<line x1="571.2" y1="714.9" x2="576.8" y2="722" stroke="#555" stroke-width="0.8"/>
<line x1="575.6" y1="704.2" x2="572.6" y2="692.3" stroke="#555" stroke-width="0.8"/>
<line x1="577" y1="703.6" x2="574" y2="691.8" stroke="#555" stroke-width="0.8"/>
<line x1="572.6" y1="692.3" x2="580.9" y2="684.4" stroke="#555" stroke-width="0.8"/>
<path d="M580.9 684.4 L579.8 683.0 L580.9 682.0 L579.2 681.4 L580.0 680.0 L578.2 679.6" fill="none" stroke="#555" stroke-width="0.8"/>
<line x1="581.5" y1="685.3" x2="585.2" y2="686.7" stroke="#555" stroke-width="0.8"/>
<line x1="588.3" y1="720.4" x2="596.8" y2="725.6" stroke="#555" stroke-width="0.8"/>
<line x1="587.6" y1="721.7" x2="596.1" y2="726.9" stroke="#555" stroke-width="0.8"/>
<line x1="576.1" y1="724.3" x2="572.6" y2="735.7" stroke="#555" stroke-width="0.8"/>
<text x="598.5" y="730" font-size="6.8" fill="#333" text-anchor="middle">O</text>
<text x="590.2" y="710.3" font-size="6.0" fill="#333" text-anchor="middle">NH</text>
<text x="580" y="717" font-size="12.6" fill="#111" text-anchor="middle">A</text>
<text x="531" y="763.6" font-size="11.6" fill="#000" font-weight="bold" textLength="49.6" lengthAdjust="spacingAndGlyphs">miRFP709</text>
</svg></body></html>
